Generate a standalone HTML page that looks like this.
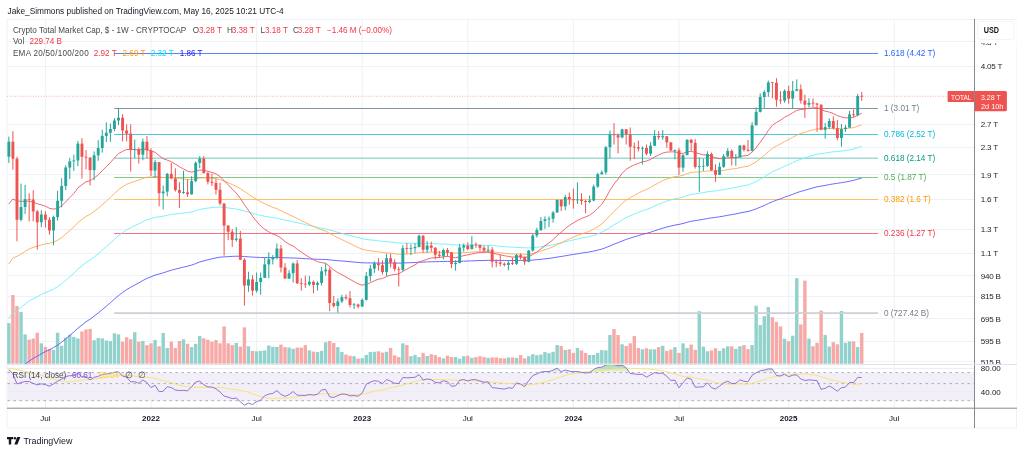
<!DOCTYPE html>
<html><head><meta charset="utf-8"><style>
html,body{margin:0;padding:0;background:#fff;width:1024px;height:453px;overflow:hidden}
svg{display:block}
text{font-family:"Liberation Sans", sans-serif}
</style></head><body>
<svg width="1024" height="453" viewBox="0 0 1024 453">
<defs>
<clipPath id="mainclip"><rect x="7" y="19.5" width="967" height="344.5"/></clipPath>
<clipPath id="rsiclip"><rect x="7" y="364.6" width="967" height="43"/></clipPath>
<linearGradient id="obg" x1="0" y1="364" x2="0" y2="372.7" gradientUnits="userSpaceOnUse"><stop offset="0" stop-color="#4caf50" stop-opacity="0.55"/><stop offset="1" stop-color="#4caf50" stop-opacity="0.08"/></linearGradient>
</defs>
<text x="7.5" y="13.7" font-size="8.3" fill="#131722">Jake_Simmons published on TradingView.com, May 16, 2025 10:21 UTC-4</text>
<rect x="7" y="19.5" width="1009.5" height="408.5" fill="none" stroke="#eff1f4" stroke-width="1"/>
<line x1="45.5" y1="19.5" x2="45.5" y2="408" stroke="#edf2f6" stroke-width="1"/>
<line x1="151.0" y1="19.5" x2="151.0" y2="408" stroke="#edf2f6" stroke-width="1"/>
<line x1="256.6" y1="19.5" x2="256.6" y2="408" stroke="#edf2f6" stroke-width="1"/>
<line x1="362.2" y1="19.5" x2="362.2" y2="408" stroke="#edf2f6" stroke-width="1"/>
<line x1="467.8" y1="19.5" x2="467.8" y2="408" stroke="#edf2f6" stroke-width="1"/>
<line x1="573.4" y1="19.5" x2="573.4" y2="408" stroke="#edf2f6" stroke-width="1"/>
<line x1="679.0" y1="19.5" x2="679.0" y2="408" stroke="#edf2f6" stroke-width="1"/>
<line x1="788.7" y1="19.5" x2="788.7" y2="408" stroke="#edf2f6" stroke-width="1"/>
<line x1="894.3" y1="19.5" x2="894.3" y2="408" stroke="#edf2f6" stroke-width="1"/>
<line x1="7" y1="41.5" x2="974" y2="41.5" stroke="#edf2f6" stroke-width="1"/>
<line x1="7" y1="66.5" x2="974" y2="66.5" stroke="#edf2f6" stroke-width="1"/>
<line x1="7" y1="124.5" x2="974" y2="124.5" stroke="#edf2f6" stroke-width="1"/>
<line x1="7" y1="147.5" x2="974" y2="147.5" stroke="#edf2f6" stroke-width="1"/>
<line x1="7" y1="174.5" x2="974" y2="174.5" stroke="#edf2f6" stroke-width="1"/>
<line x1="7" y1="199.5" x2="974" y2="199.5" stroke="#edf2f6" stroke-width="1"/>
<line x1="7" y1="229.5" x2="974" y2="229.5" stroke="#edf2f6" stroke-width="1"/>
<line x1="7" y1="253.5" x2="974" y2="253.5" stroke="#edf2f6" stroke-width="1"/>
<line x1="7" y1="275.5" x2="974" y2="275.5" stroke="#edf2f6" stroke-width="1"/>
<line x1="7" y1="296.5" x2="974" y2="296.5" stroke="#edf2f6" stroke-width="1"/>
<line x1="7" y1="318.5" x2="974" y2="318.5" stroke="#edf2f6" stroke-width="1"/>
<line x1="7" y1="341.5" x2="974" y2="341.5" stroke="#edf2f6" stroke-width="1"/>
<line x1="7" y1="361.5" x2="974" y2="361.5" stroke="#edf2f6" stroke-width="1"/>
<rect x="7.5" y="372.6" width="966.5" height="28.1" fill="#f2eff9"/>
<line x1="7" y1="368.4" x2="974" y2="368.4" stroke="#e9ecf4" stroke-width="1"/>
<line x1="7" y1="391.6" x2="974" y2="391.6" stroke="#e9ecf4" stroke-width="1"/>
<line x1="7.5" y1="372.6" x2="974" y2="372.6" stroke="#a3a6af" stroke-width="0.9" stroke-dasharray="2.5 3.5"/>
<line x1="7.5" y1="383.6" x2="974" y2="383.6" stroke="#a3a6af" stroke-width="0.9" stroke-dasharray="2.5 3.5"/>
<line x1="7.5" y1="400.7" x2="974" y2="400.7" stroke="#a3a6af" stroke-width="0.9" stroke-dasharray="2.5 3.5"/>
<rect x="7.15" y="323.1" width="3.4" height="40.6" fill="#92d2cc"/>
<rect x="11.21" y="295.0" width="3.4" height="68.7" fill="#f7a9a7"/>
<rect x="15.27" y="306.1" width="3.4" height="57.6" fill="#f7a9a7"/>
<rect x="19.33" y="311.9" width="3.4" height="51.8" fill="#92d2cc"/>
<rect x="23.40" y="334.4" width="3.4" height="29.3" fill="#92d2cc"/>
<rect x="27.46" y="339.7" width="3.4" height="24.0" fill="#f7a9a7"/>
<rect x="31.52" y="338.5" width="3.4" height="25.2" fill="#f7a9a7"/>
<rect x="35.58" y="332.7" width="3.4" height="31.0" fill="#f7a9a7"/>
<rect x="39.64" y="343.3" width="3.4" height="20.4" fill="#92d2cc"/>
<rect x="43.70" y="346.8" width="3.4" height="16.9" fill="#f7a9a7"/>
<rect x="47.76" y="348.8" width="3.4" height="14.9" fill="#f7a9a7"/>
<rect x="51.83" y="349.9" width="3.4" height="13.8" fill="#92d2cc"/>
<rect x="55.89" y="332.7" width="3.4" height="31.0" fill="#92d2cc"/>
<rect x="59.95" y="345.8" width="3.4" height="17.9" fill="#92d2cc"/>
<rect x="64.01" y="337.7" width="3.4" height="26.0" fill="#92d2cc"/>
<rect x="68.07" y="334.7" width="3.4" height="29.0" fill="#92d2cc"/>
<rect x="72.13" y="336.9" width="3.4" height="26.8" fill="#92d2cc"/>
<rect x="76.19" y="338.5" width="3.4" height="25.2" fill="#92d2cc"/>
<rect x="80.26" y="331.4" width="3.4" height="32.3" fill="#f7a9a7"/>
<rect x="84.32" y="329.4" width="3.4" height="34.3" fill="#f7a9a7"/>
<rect x="88.38" y="328.9" width="3.4" height="34.8" fill="#f7a9a7"/>
<rect x="92.44" y="340.2" width="3.4" height="23.5" fill="#92d2cc"/>
<rect x="96.50" y="338.0" width="3.4" height="25.7" fill="#92d2cc"/>
<rect x="100.56" y="338.3" width="3.4" height="25.4" fill="#92d2cc"/>
<rect x="104.62" y="340.5" width="3.4" height="23.2" fill="#92d2cc"/>
<rect x="108.68" y="341.0" width="3.4" height="22.7" fill="#92d2cc"/>
<rect x="112.75" y="333.4" width="3.4" height="30.3" fill="#92d2cc"/>
<rect x="116.81" y="334.4" width="3.4" height="29.3" fill="#92d2cc"/>
<rect x="120.87" y="341.7" width="3.4" height="22.0" fill="#f7a9a7"/>
<rect x="124.93" y="337.2" width="3.4" height="26.5" fill="#f7a9a7"/>
<rect x="128.99" y="339.2" width="3.4" height="24.5" fill="#f7a9a7"/>
<rect x="133.05" y="332.2" width="3.4" height="31.5" fill="#92d2cc"/>
<rect x="137.11" y="341.7" width="3.4" height="22.0" fill="#f7a9a7"/>
<rect x="141.18" y="341.0" width="3.4" height="22.7" fill="#92d2cc"/>
<rect x="145.24" y="345.1" width="3.4" height="18.6" fill="#f7a9a7"/>
<rect x="149.30" y="343.3" width="3.4" height="20.4" fill="#f7a9a7"/>
<rect x="153.36" y="340.0" width="3.4" height="23.7" fill="#92d2cc"/>
<rect x="157.42" y="346.3" width="3.4" height="17.4" fill="#f7a9a7"/>
<rect x="161.48" y="333.0" width="3.4" height="30.7" fill="#92d2cc"/>
<rect x="165.54" y="348.0" width="3.4" height="15.7" fill="#92d2cc"/>
<rect x="169.61" y="341.7" width="3.4" height="22.0" fill="#f7a9a7"/>
<rect x="173.67" y="348.0" width="3.4" height="15.7" fill="#f7a9a7"/>
<rect x="177.73" y="341.0" width="3.4" height="22.7" fill="#f7a9a7"/>
<rect x="181.79" y="339.3" width="3.4" height="24.4" fill="#92d2cc"/>
<rect x="185.85" y="343.8" width="3.4" height="19.9" fill="#f7a9a7"/>
<rect x="189.91" y="347.1" width="3.4" height="16.6" fill="#92d2cc"/>
<rect x="193.97" y="343.8" width="3.4" height="19.9" fill="#92d2cc"/>
<rect x="198.04" y="336.0" width="3.4" height="27.7" fill="#92d2cc"/>
<rect x="202.10" y="338.3" width="3.4" height="25.4" fill="#f7a9a7"/>
<rect x="206.16" y="339.7" width="3.4" height="24.0" fill="#f7a9a7"/>
<rect x="210.22" y="341.7" width="3.4" height="22.0" fill="#f7a9a7"/>
<rect x="214.28" y="340.0" width="3.4" height="23.7" fill="#f7a9a7"/>
<rect x="218.34" y="343.3" width="3.4" height="20.4" fill="#f7a9a7"/>
<rect x="222.40" y="326.4" width="3.4" height="37.3" fill="#f7a9a7"/>
<rect x="226.47" y="343.3" width="3.4" height="20.4" fill="#f7a9a7"/>
<rect x="230.53" y="345.1" width="3.4" height="18.6" fill="#f7a9a7"/>
<rect x="234.59" y="343.0" width="3.4" height="20.7" fill="#92d2cc"/>
<rect x="238.65" y="346.6" width="3.4" height="17.1" fill="#f7a9a7"/>
<rect x="242.71" y="327.4" width="3.4" height="36.3" fill="#f7a9a7"/>
<rect x="246.77" y="346.3" width="3.4" height="17.4" fill="#92d2cc"/>
<rect x="250.83" y="350.9" width="3.4" height="12.8" fill="#f7a9a7"/>
<rect x="254.90" y="351.3" width="3.4" height="12.4" fill="#92d2cc"/>
<rect x="258.96" y="350.9" width="3.4" height="12.8" fill="#92d2cc"/>
<rect x="263.02" y="350.4" width="3.4" height="13.3" fill="#92d2cc"/>
<rect x="267.08" y="345.5" width="3.4" height="18.2" fill="#92d2cc"/>
<rect x="271.14" y="346.8" width="3.4" height="16.9" fill="#92d2cc"/>
<rect x="275.20" y="346.8" width="3.4" height="16.9" fill="#92d2cc"/>
<rect x="279.26" y="344.6" width="3.4" height="19.1" fill="#f7a9a7"/>
<rect x="283.33" y="347.1" width="3.4" height="16.6" fill="#f7a9a7"/>
<rect x="287.39" y="347.5" width="3.4" height="16.2" fill="#92d2cc"/>
<rect x="291.45" y="348.8" width="3.4" height="14.9" fill="#92d2cc"/>
<rect x="295.51" y="347.6" width="3.4" height="16.1" fill="#f7a9a7"/>
<rect x="299.57" y="347.6" width="3.4" height="16.1" fill="#f7a9a7"/>
<rect x="303.63" y="345.1" width="3.4" height="18.6" fill="#f7a9a7"/>
<rect x="307.69" y="350.4" width="3.4" height="13.3" fill="#92d2cc"/>
<rect x="311.76" y="351.6" width="3.4" height="12.1" fill="#f7a9a7"/>
<rect x="315.82" y="352.1" width="3.4" height="11.6" fill="#92d2cc"/>
<rect x="319.88" y="350.9" width="3.4" height="12.8" fill="#92d2cc"/>
<rect x="323.94" y="342.2" width="3.4" height="21.5" fill="#92d2cc"/>
<rect x="328.00" y="341.0" width="3.4" height="22.7" fill="#f7a9a7"/>
<rect x="332.06" y="343.0" width="3.4" height="20.7" fill="#f7a9a7"/>
<rect x="336.12" y="347.1" width="3.4" height="16.6" fill="#92d2cc"/>
<rect x="340.18" y="352.1" width="3.4" height="11.6" fill="#92d2cc"/>
<rect x="344.25" y="354.6" width="3.4" height="9.1" fill="#f7a9a7"/>
<rect x="348.31" y="355.7" width="3.4" height="8.0" fill="#f7a9a7"/>
<rect x="352.37" y="356.2" width="3.4" height="7.5" fill="#92d2cc"/>
<rect x="356.43" y="358.7" width="3.4" height="5.0" fill="#f7a9a7"/>
<rect x="360.49" y="358.2" width="3.4" height="5.5" fill="#92d2cc"/>
<rect x="364.55" y="354.9" width="3.4" height="8.8" fill="#92d2cc"/>
<rect x="368.61" y="352.1" width="3.4" height="11.6" fill="#92d2cc"/>
<rect x="372.68" y="351.8" width="3.4" height="11.9" fill="#92d2cc"/>
<rect x="376.74" y="351.3" width="3.4" height="12.4" fill="#f7a9a7"/>
<rect x="380.80" y="352.6" width="3.4" height="11.1" fill="#f7a9a7"/>
<rect x="384.86" y="351.8" width="3.4" height="11.9" fill="#92d2cc"/>
<rect x="388.92" y="348.0" width="3.4" height="15.7" fill="#f7a9a7"/>
<rect x="392.98" y="355.4" width="3.4" height="8.3" fill="#f7a9a7"/>
<rect x="397.04" y="357.1" width="3.4" height="6.6" fill="#f7a9a7"/>
<rect x="401.11" y="343.3" width="3.4" height="20.4" fill="#92d2cc"/>
<rect x="405.17" y="345.0" width="3.4" height="18.7" fill="#f7a9a7"/>
<rect x="409.23" y="356.2" width="3.4" height="7.5" fill="#92d2cc"/>
<rect x="413.29" y="354.9" width="3.4" height="8.8" fill="#92d2cc"/>
<rect x="417.35" y="357.1" width="3.4" height="6.6" fill="#92d2cc"/>
<rect x="421.41" y="352.9" width="3.4" height="10.8" fill="#f7a9a7"/>
<rect x="425.47" y="355.9" width="3.4" height="7.8" fill="#92d2cc"/>
<rect x="429.54" y="354.2" width="3.4" height="9.5" fill="#f7a9a7"/>
<rect x="433.60" y="355.1" width="3.4" height="8.6" fill="#f7a9a7"/>
<rect x="437.66" y="357.1" width="3.4" height="6.6" fill="#f7a9a7"/>
<rect x="441.72" y="358.4" width="3.4" height="5.3" fill="#92d2cc"/>
<rect x="445.78" y="355.7" width="3.4" height="8.0" fill="#f7a9a7"/>
<rect x="449.84" y="357.1" width="3.4" height="6.6" fill="#f7a9a7"/>
<rect x="453.90" y="357.1" width="3.4" height="6.6" fill="#92d2cc"/>
<rect x="457.97" y="358.7" width="3.4" height="5.0" fill="#92d2cc"/>
<rect x="462.03" y="356.2" width="3.4" height="7.5" fill="#92d2cc"/>
<rect x="466.09" y="355.7" width="3.4" height="8.0" fill="#f7a9a7"/>
<rect x="470.15" y="357.9" width="3.4" height="5.8" fill="#92d2cc"/>
<rect x="474.21" y="357.1" width="3.4" height="6.6" fill="#f7a9a7"/>
<rect x="478.27" y="356.2" width="3.4" height="7.5" fill="#f7a9a7"/>
<rect x="482.33" y="357.1" width="3.4" height="6.6" fill="#f7a9a7"/>
<rect x="486.40" y="357.9" width="3.4" height="5.8" fill="#92d2cc"/>
<rect x="490.46" y="357.4" width="3.4" height="6.3" fill="#f7a9a7"/>
<rect x="494.52" y="357.4" width="3.4" height="6.3" fill="#f7a9a7"/>
<rect x="498.58" y="358.2" width="3.4" height="5.5" fill="#f7a9a7"/>
<rect x="502.64" y="358.4" width="3.4" height="5.3" fill="#f7a9a7"/>
<rect x="506.70" y="357.5" width="3.4" height="6.2" fill="#92d2cc"/>
<rect x="510.76" y="357.4" width="3.4" height="6.3" fill="#f7a9a7"/>
<rect x="514.82" y="357.9" width="3.4" height="5.8" fill="#92d2cc"/>
<rect x="518.89" y="355.1" width="3.4" height="8.6" fill="#f7a9a7"/>
<rect x="522.95" y="358.4" width="3.4" height="5.3" fill="#f7a9a7"/>
<rect x="527.01" y="356.2" width="3.4" height="7.5" fill="#92d2cc"/>
<rect x="531.07" y="354.2" width="3.4" height="9.5" fill="#92d2cc"/>
<rect x="535.13" y="355.1" width="3.4" height="8.6" fill="#92d2cc"/>
<rect x="539.19" y="354.6" width="3.4" height="9.1" fill="#92d2cc"/>
<rect x="543.25" y="352.1" width="3.4" height="11.6" fill="#92d2cc"/>
<rect x="547.32" y="353.2" width="3.4" height="10.5" fill="#92d2cc"/>
<rect x="551.38" y="351.8" width="3.4" height="11.9" fill="#92d2cc"/>
<rect x="555.44" y="345.0" width="3.4" height="18.7" fill="#92d2cc"/>
<rect x="559.50" y="346.0" width="3.4" height="17.7" fill="#f7a9a7"/>
<rect x="563.56" y="349.9" width="3.4" height="13.8" fill="#92d2cc"/>
<rect x="567.62" y="349.3" width="3.4" height="14.4" fill="#f7a9a7"/>
<rect x="571.68" y="352.9" width="3.4" height="10.8" fill="#f7a9a7"/>
<rect x="575.75" y="348.0" width="3.4" height="15.7" fill="#92d2cc"/>
<rect x="579.81" y="350.4" width="3.4" height="13.3" fill="#f7a9a7"/>
<rect x="583.87" y="352.9" width="3.4" height="10.8" fill="#f7a9a7"/>
<rect x="587.93" y="354.9" width="3.4" height="8.8" fill="#92d2cc"/>
<rect x="591.99" y="354.9" width="3.4" height="8.8" fill="#92d2cc"/>
<rect x="596.05" y="352.9" width="3.4" height="10.8" fill="#92d2cc"/>
<rect x="600.11" y="350.1" width="3.4" height="13.6" fill="#92d2cc"/>
<rect x="604.18" y="350.4" width="3.4" height="13.3" fill="#92d2cc"/>
<rect x="608.24" y="335.0" width="3.4" height="28.7" fill="#92d2cc"/>
<rect x="612.30" y="329.1" width="3.4" height="34.6" fill="#f7a9a7"/>
<rect x="616.36" y="335.0" width="3.4" height="28.7" fill="#f7a9a7"/>
<rect x="620.42" y="344.3" width="3.4" height="19.4" fill="#92d2cc"/>
<rect x="624.48" y="346.0" width="3.4" height="17.7" fill="#f7a9a7"/>
<rect x="628.54" y="343.3" width="3.4" height="20.4" fill="#f7a9a7"/>
<rect x="632.61" y="336.0" width="3.4" height="27.7" fill="#f7a9a7"/>
<rect x="636.67" y="348.0" width="3.4" height="15.7" fill="#f7a9a7"/>
<rect x="640.73" y="349.3" width="3.4" height="14.4" fill="#92d2cc"/>
<rect x="644.79" y="348.3" width="3.4" height="15.4" fill="#f7a9a7"/>
<rect x="648.85" y="349.3" width="3.4" height="14.4" fill="#92d2cc"/>
<rect x="652.91" y="349.3" width="3.4" height="14.4" fill="#92d2cc"/>
<rect x="656.97" y="347.1" width="3.4" height="16.6" fill="#f7a9a7"/>
<rect x="661.04" y="345.8" width="3.4" height="17.9" fill="#92d2cc"/>
<rect x="665.10" y="350.9" width="3.4" height="12.8" fill="#f7a9a7"/>
<rect x="669.16" y="349.6" width="3.4" height="14.1" fill="#f7a9a7"/>
<rect x="673.22" y="347.1" width="3.4" height="16.6" fill="#92d2cc"/>
<rect x="677.28" y="352.9" width="3.4" height="10.8" fill="#f7a9a7"/>
<rect x="681.34" y="343.3" width="3.4" height="20.4" fill="#92d2cc"/>
<rect x="685.40" y="348.0" width="3.4" height="15.7" fill="#92d2cc"/>
<rect x="689.47" y="344.6" width="3.4" height="19.1" fill="#f7a9a7"/>
<rect x="693.53" y="349.9" width="3.4" height="13.8" fill="#f7a9a7"/>
<rect x="697.59" y="311.2" width="3.4" height="52.5" fill="#92d2cc"/>
<rect x="701.65" y="346.6" width="3.4" height="17.1" fill="#92d2cc"/>
<rect x="705.71" y="351.3" width="3.4" height="12.4" fill="#92d2cc"/>
<rect x="709.77" y="350.4" width="3.4" height="13.3" fill="#f7a9a7"/>
<rect x="713.83" y="348.3" width="3.4" height="15.4" fill="#f7a9a7"/>
<rect x="717.89" y="350.9" width="3.4" height="12.8" fill="#92d2cc"/>
<rect x="721.96" y="348.3" width="3.4" height="15.4" fill="#92d2cc"/>
<rect x="726.02" y="346.3" width="3.4" height="17.4" fill="#92d2cc"/>
<rect x="730.08" y="346.3" width="3.4" height="17.4" fill="#f7a9a7"/>
<rect x="734.14" y="348.8" width="3.4" height="14.9" fill="#92d2cc"/>
<rect x="738.20" y="346.3" width="3.4" height="17.4" fill="#92d2cc"/>
<rect x="742.26" y="345.1" width="3.4" height="18.6" fill="#f7a9a7"/>
<rect x="746.32" y="349.1" width="3.4" height="14.6" fill="#f7a9a7"/>
<rect x="750.39" y="345.1" width="3.4" height="18.6" fill="#92d2cc"/>
<rect x="754.45" y="305.7" width="3.4" height="58.0" fill="#92d2cc"/>
<rect x="758.51" y="325.1" width="3.4" height="38.6" fill="#92d2cc"/>
<rect x="762.57" y="316.2" width="3.4" height="47.5" fill="#92d2cc"/>
<rect x="766.63" y="307.1" width="3.4" height="56.6" fill="#92d2cc"/>
<rect x="770.69" y="317.2" width="3.4" height="46.5" fill="#f7a9a7"/>
<rect x="774.75" y="321.9" width="3.4" height="41.8" fill="#f7a9a7"/>
<rect x="778.82" y="326.4" width="3.4" height="37.3" fill="#f7a9a7"/>
<rect x="782.88" y="338.7" width="3.4" height="25.0" fill="#92d2cc"/>
<rect x="786.94" y="341.2" width="3.4" height="22.5" fill="#f7a9a7"/>
<rect x="791.00" y="335.7" width="3.4" height="28.0" fill="#92d2cc"/>
<rect x="795.06" y="278.2" width="3.4" height="85.5" fill="#92d2cc"/>
<rect x="799.12" y="324.4" width="3.4" height="39.3" fill="#f7a9a7"/>
<rect x="803.18" y="280.6" width="3.4" height="83.1" fill="#f7a9a7"/>
<rect x="807.25" y="338.7" width="3.4" height="25.0" fill="#92d2cc"/>
<rect x="811.31" y="346.3" width="3.4" height="17.4" fill="#f7a9a7"/>
<rect x="815.37" y="342.8" width="3.4" height="20.9" fill="#f7a9a7"/>
<rect x="819.43" y="310.6" width="3.4" height="53.1" fill="#f7a9a7"/>
<rect x="823.49" y="335.0" width="3.4" height="28.7" fill="#92d2cc"/>
<rect x="827.55" y="346.5" width="3.4" height="17.2" fill="#92d2cc"/>
<rect x="831.61" y="342.2" width="3.4" height="21.5" fill="#f7a9a7"/>
<rect x="835.68" y="344.3" width="3.4" height="19.4" fill="#f7a9a7"/>
<rect x="839.74" y="311.0" width="3.4" height="52.7" fill="#92d2cc"/>
<rect x="843.80" y="342.8" width="3.4" height="20.9" fill="#92d2cc"/>
<rect x="847.86" y="341.4" width="3.4" height="22.3" fill="#92d2cc"/>
<rect x="851.92" y="341.4" width="3.4" height="22.3" fill="#f7a9a7"/>
<rect x="855.98" y="347.0" width="3.4" height="16.7" fill="#92d2cc"/>
<rect x="860.04" y="333.0" width="3.4" height="30.7" fill="#f7a9a7"/>
<line x1="114.2" y1="53.5" x2="878" y2="53.5" stroke="#5b82fb" stroke-width="1"/>
<line x1="114.2" y1="108.5" x2="878" y2="108.5" stroke="#8f929b" stroke-width="1"/>
<line x1="114.2" y1="134.5" x2="878" y2="134.5" stroke="#4cc9de" stroke-width="1.1"/>
<line x1="114.2" y1="158.2" x2="878" y2="158.2" stroke="#a0d9d2" stroke-width="1.5"/>
<line x1="114.2" y1="177.5" x2="878" y2="177.5" stroke="#86cc89" stroke-width="1"/>
<line x1="114.2" y1="199.5" x2="878" y2="199.5" stroke="#ffbf6a" stroke-width="1"/>
<line x1="114.2" y1="233.5" x2="878" y2="233.5" stroke="#f5737c" stroke-width="1"/>
<line x1="114.2" y1="313.1" x2="878" y2="313.1" stroke="#cdcfd4" stroke-width="1.7"/>
<line x1="7" y1="96.3" x2="974" y2="96.3" stroke="#ef5350" stroke-width="0.8" stroke-dasharray="1 1.6" opacity="0.55"/>
<polyline points="8.8,378.0 12.9,372.9 17.0,370.2 21.0,367.2 25.1,364.1 29.2,361.1 33.2,358.5 37.3,356.2 41.3,353.8 45.4,351.6 49.5,349.8 53.5,347.6 57.6,345.1 61.6,342.2 65.7,338.9 69.8,335.4 73.8,332.0 77.9,328.2 82.0,325.0 86.0,321.8 90.1,319.2 94.1,316.2 98.2,313.0 102.3,309.6 106.3,306.2 110.4,302.7 114.4,299.1 118.5,295.5 122.6,292.5 126.6,289.6 130.7,287.3 134.8,285.0 138.8,282.9 142.9,280.5 146.9,278.4 151.0,276.8 155.1,275.1 159.1,274.0 163.2,272.9 167.2,271.5 171.3,270.2 175.4,269.1 179.4,268.1 183.5,267.1 187.6,266.2 191.6,265.1 195.7,263.6 199.7,262.0 203.8,260.8 207.9,259.8 211.9,258.8 216.0,257.9 220.0,257.2 224.1,256.9 228.2,256.6 232.2,256.4 236.3,256.2 240.3,256.3 244.4,256.5 248.5,256.8 252.5,257.1 256.6,257.3 260.7,257.5 264.7,257.5 268.8,257.6 272.8,257.6 276.9,257.5 281.0,257.6 285.0,257.8 289.1,257.9 293.1,258.0 297.2,258.2 301.3,258.4 305.3,258.7 309.4,258.9 313.5,259.1 317.5,259.3 321.6,259.4 325.6,259.5 329.7,259.9 333.8,260.3 337.8,260.7 341.9,261.0 345.9,261.3 350.0,261.7 354.1,262.1 358.1,262.4 362.2,262.8 366.3,262.9 370.3,262.9 374.4,263.0 378.4,263.0 382.5,263.1 386.6,263.0 390.6,263.0 394.7,263.1 398.7,263.1 402.8,263.0 406.9,262.8 410.9,262.7 415.0,262.5 419.1,262.2 423.1,262.1 427.2,261.9 431.2,261.8 435.3,261.7 439.4,261.6 443.4,261.5 447.5,261.4 451.5,261.4 455.6,261.5 459.7,261.3 463.7,261.2 467.8,261.0 471.8,260.9 475.9,260.7 480.0,260.6 484.0,260.5 488.1,260.3 492.2,260.4 496.2,260.4 500.3,260.4 504.3,260.5 508.4,260.5 512.5,260.5 516.5,260.5 520.6,260.4 524.6,260.4 528.7,260.3 532.8,260.1 536.8,259.7 540.9,259.3 545.0,258.8 549.0,258.4 553.1,257.8 557.1,257.1 561.2,256.5 565.3,255.8 569.3,255.1 573.4,254.4 577.4,253.8 581.5,253.1 585.6,252.5 589.6,251.9 593.7,251.1 597.8,250.1 601.8,249.1 605.9,247.6 609.9,245.9 614.0,244.2 618.1,242.7 622.1,241.0 626.2,239.4 630.2,238.1 634.3,236.8 638.4,235.6 642.4,234.4 646.5,233.4 650.6,232.2 654.6,230.8 658.7,229.5 662.7,228.2 666.8,227.0 670.9,226.0 674.9,225.1 679.0,224.4 683.0,223.5 687.1,222.3 691.2,221.3 695.2,220.6 699.3,220.0 703.3,219.3 707.4,218.5 711.5,217.9 715.5,217.4 719.6,216.8 723.7,216.1 727.7,215.3 731.8,214.6 735.8,213.9 739.9,213.0 744.0,212.2 748.0,211.5 752.1,210.3 756.1,208.9 760.2,207.2 764.3,205.5 768.3,203.5 772.4,201.7 776.5,200.2 780.5,198.8 784.6,197.2 788.6,195.8 792.7,194.3 796.8,192.7 800.8,191.4 804.9,190.3 808.9,189.1 813.0,187.9 817.1,186.8 821.1,186.1 825.2,185.4 829.3,184.6 833.3,183.9 837.4,183.3 841.4,182.7 845.5,182.0 849.6,181.2 853.6,180.3 857.7,179.2 861.7,178.1" fill="none" stroke="#5a5aff" stroke-width="0.9" stroke-linejoin="round" clip-path="url(#mainclip)"/>
<polyline points="8.8,318.5 12.9,312.8 17.0,310.2 21.0,307.3 25.1,304.1 29.2,301.1 33.2,298.7 37.3,296.7 41.3,294.5 45.4,292.6 49.5,291.0 53.5,289.1 57.6,286.7 61.6,283.9 65.7,280.4 69.8,276.7 73.8,273.2 77.9,269.1 82.0,265.8 86.0,262.6 90.1,260.1 94.1,257.0 98.2,253.8 102.3,250.3 106.3,246.7 110.4,243.1 114.4,239.4 118.5,235.6 122.6,232.6 126.6,229.8 130.7,227.7 134.8,225.6 138.8,223.8 142.9,221.6 146.9,219.8 151.0,218.7 155.1,217.3 159.1,216.8 163.2,216.2 167.2,215.3 171.3,214.4 175.4,213.9 179.4,213.5 183.5,213.0 187.6,212.6 191.6,211.9 195.7,210.8 199.7,209.5 203.8,208.7 207.9,208.1 211.9,207.6 216.0,207.2 220.0,207.1 224.1,207.5 228.2,207.9 232.2,208.5 236.3,209.0 240.3,209.9 244.4,211.0 248.5,212.1 252.5,213.3 256.6,214.4 260.7,215.4 264.7,216.3 268.8,217.0 272.8,217.7 276.9,218.2 281.0,219.1 285.0,220.0 289.1,220.9 293.1,221.7 297.2,222.7 301.3,223.6 305.3,224.6 309.4,225.6 313.5,226.5 317.5,227.5 321.6,228.2 325.6,228.9 329.7,230.1 333.8,231.2 337.8,232.3 341.9,233.4 345.9,234.4 350.0,235.5 354.1,236.6 358.1,237.7 362.2,238.7 366.3,239.4 370.3,239.9 374.4,240.3 378.4,240.8 382.5,241.3 386.6,241.7 390.6,242.0 394.7,242.5 398.7,243.0 402.8,243.1 406.9,243.2 410.9,243.3 415.0,243.4 419.1,243.2 423.1,243.4 427.2,243.4 431.2,243.5 435.3,243.7 439.4,243.9 443.4,244.1 447.5,244.2 451.5,244.6 455.6,244.9 459.7,245.0 463.7,245.0 467.8,245.1 471.8,245.1 475.9,245.1 480.0,245.1 484.0,245.2 488.1,245.3 492.2,245.6 496.2,245.9 500.3,246.3 504.3,246.6 508.4,246.9 512.5,247.2 516.5,247.4 520.6,247.6 524.6,247.8 528.7,247.9 532.8,247.6 536.8,247.3 540.9,246.7 545.0,246.1 549.0,245.5 553.1,244.8 557.1,243.7 561.2,242.9 565.3,241.8 569.3,240.8 573.4,239.9 577.4,239.0 581.5,238.1 585.6,237.3 589.6,236.5 593.7,235.3 597.8,233.8 601.8,232.3 605.9,230.0 609.9,227.4 614.0,224.8 618.1,222.5 622.1,219.9 626.2,217.6 630.2,215.8 634.3,214.1 638.4,212.4 642.4,210.8 646.5,209.4 650.6,207.9 654.6,206.0 658.7,204.3 662.7,202.6 666.8,201.1 670.9,199.9 674.9,198.7 679.0,198.1 683.0,197.1 687.1,195.7 691.2,194.4 695.2,193.8 699.3,193.2 703.3,192.6 707.4,191.8 711.5,191.3 715.5,190.9 719.6,190.4 723.7,189.7 727.7,188.8 731.8,188.1 735.8,187.4 739.9,186.5 744.0,185.6 748.0,184.9 752.1,183.4 756.1,181.6 760.2,179.3 764.3,177.0 768.3,174.3 772.4,171.8 776.5,170.0 780.5,168.2 784.6,166.2 788.6,164.5 792.7,162.6 796.8,160.7 800.8,159.3 804.9,158.0 808.9,156.6 813.0,155.4 817.1,154.2 821.1,153.6 825.2,153.1 829.3,152.4 833.3,151.8 837.4,151.6 841.4,151.1 845.5,150.6 849.6,149.8 853.6,149.0 857.7,147.7 861.7,146.5" fill="none" stroke="#6af2fb" stroke-width="0.9" stroke-linejoin="round" clip-path="url(#mainclip)"/>
<polyline points="8.8,264.0 12.9,258.0 17.0,256.3 21.0,254.0 25.1,251.4 29.2,249.0 33.2,247.3 37.3,246.3 41.3,244.9 45.4,243.8 49.5,243.3 53.5,242.1 57.6,240.3 61.6,237.7 65.7,234.2 69.8,230.5 73.8,227.0 77.9,222.7 82.0,219.4 86.0,216.4 90.1,214.3 94.1,211.4 98.2,208.4 102.3,204.7 106.3,201.1 110.4,197.5 114.4,193.5 118.5,189.7 122.6,186.8 126.6,184.3 130.7,182.8 134.8,181.3 138.8,180.2 142.9,178.4 146.9,177.2 151.0,177.0 155.1,176.4 159.1,177.0 163.2,177.5 167.2,177.4 171.3,177.4 175.4,177.9 179.4,178.5 183.5,179.0 187.6,179.6 191.6,179.6 195.7,178.9 199.7,178.1 203.8,177.9 207.9,178.0 211.9,178.2 216.0,178.7 220.0,179.6 224.1,181.1 228.2,182.8 232.2,184.6 236.3,186.4 240.3,188.7 244.4,191.5 248.5,194.1 252.5,196.9 256.6,199.4 260.7,201.8 264.7,203.8 268.8,205.6 272.8,207.3 276.9,208.7 281.0,210.6 285.0,212.8 289.1,214.7 293.1,216.4 297.2,218.5 301.3,220.6 305.3,222.6 309.4,224.5 313.5,226.4 317.5,228.3 321.6,229.8 325.6,231.1 329.7,233.4 333.8,235.6 337.8,237.7 341.9,239.6 345.9,241.5 350.0,243.6 354.1,245.5 358.1,247.5 362.2,249.2 366.3,250.2 370.3,250.8 374.4,251.3 378.4,251.8 382.5,252.6 386.6,252.8 390.6,253.2 394.7,253.7 398.7,254.3 402.8,254.1 406.9,253.9 410.9,253.7 415.0,253.4 419.1,252.7 423.1,252.6 427.2,252.3 431.2,252.1 435.3,252.2 439.4,252.3 443.4,252.3 447.5,252.3 451.5,252.7 455.6,253.1 459.7,252.9 463.7,252.6 467.8,252.4 471.8,252.1 475.9,251.8 480.0,251.7 484.0,251.6 488.1,251.6 492.2,251.9 496.2,252.3 500.3,252.8 504.3,253.2 508.4,253.6 512.5,254.0 516.5,254.0 520.6,254.1 524.6,254.4 528.7,254.3 532.8,253.5 536.8,252.5 540.9,251.1 545.0,249.7 549.0,248.4 553.1,246.8 557.1,244.6 561.2,242.9 565.3,240.8 569.3,238.9 573.4,237.2 577.4,235.5 581.5,234.0 585.6,232.6 589.6,231.2 593.7,229.2 597.8,226.6 601.8,224.0 605.9,220.1 609.9,215.5 614.0,211.4 618.1,207.6 622.1,203.6 626.2,200.2 630.2,197.7 634.3,195.3 638.4,193.2 642.4,191.1 646.5,189.4 650.6,187.4 654.6,185.0 658.7,182.8 662.7,180.7 666.8,179.0 670.9,177.7 674.9,176.6 679.0,176.2 683.0,175.3 687.1,173.7 691.2,172.4 695.2,172.2 699.3,171.9 703.3,171.7 707.4,171.0 711.5,170.9 715.5,171.1 719.6,170.9 723.7,170.3 727.7,169.5 731.8,169.0 735.8,168.6 739.9,167.6 744.0,166.8 748.0,166.2 752.1,164.3 756.1,161.9 760.2,158.7 764.3,155.4 768.3,151.7 772.4,148.3 776.5,146.1 780.5,144.0 784.6,141.5 788.6,139.5 792.7,137.3 796.8,135.1 800.8,133.5 804.9,132.3 808.9,131.0 813.0,129.8 817.1,128.8 821.1,128.8 825.2,128.7 829.3,128.4 833.3,128.4 837.4,128.8 841.4,128.8 845.5,128.7 849.6,128.2 853.6,127.6 857.7,126.2 861.7,124.9" fill="none" stroke="#ffaa55" stroke-width="0.9" stroke-linejoin="round" clip-path="url(#mainclip)"/>
<polyline points="8.8,204.0 12.9,199.0 17.0,200.9 21.0,201.4 25.1,201.2 29.2,201.1 33.2,202.0 37.3,203.8 41.3,204.8 45.4,206.2 49.5,208.3 53.5,209.1 57.6,208.3 61.6,206.0 65.7,201.9 69.8,197.5 73.8,193.5 77.9,187.9 82.0,184.7 86.0,181.8 90.1,180.7 94.1,178.1 98.2,174.9 102.3,170.7 106.3,166.6 110.4,162.6 114.4,158.0 118.5,153.6 122.6,151.3 126.6,149.5 130.7,149.5 134.8,149.5 138.8,150.0 142.9,149.2 146.9,149.3 151.0,151.2 155.1,152.2 159.1,155.6 163.2,158.7 167.2,160.1 171.3,161.7 175.4,164.2 179.4,166.7 183.5,169.0 187.6,171.2 191.6,172.1 195.7,171.2 199.7,170.0 203.8,170.3 207.9,171.3 211.9,172.4 216.0,173.9 220.0,176.5 224.1,180.5 228.2,184.7 232.2,189.1 236.3,193.2 240.3,198.3 244.4,204.7 248.5,210.3 252.5,216.3 256.6,221.4 260.7,226.0 264.7,229.2 268.8,231.8 272.8,234.1 276.9,235.4 281.0,238.1 285.0,241.5 289.1,244.3 293.1,246.0 297.2,249.2 301.3,252.1 305.3,254.9 309.4,257.3 313.5,259.7 317.5,261.7 321.6,262.6 325.6,263.3 329.7,266.6 333.8,269.9 337.8,272.7 341.9,274.8 345.9,276.9 350.0,279.4 354.1,281.6 358.1,283.8 362.2,285.2 366.3,284.3 370.3,282.7 374.4,280.8 378.4,279.2 382.5,278.5 386.6,276.5 390.6,275.1 394.7,274.5 398.7,274.0 402.8,271.4 406.9,269.1 410.9,266.9 415.0,264.9 419.1,261.9 423.1,260.7 427.2,259.2 431.2,258.0 435.3,257.7 439.4,257.5 443.4,256.8 447.5,256.4 451.5,257.1 455.6,257.7 459.7,256.7 463.7,255.6 467.8,254.9 471.8,253.9 475.9,253.1 480.0,252.5 484.0,252.3 488.1,252.1 492.2,253.0 496.2,253.9 500.3,254.8 504.3,255.7 508.4,256.4 512.5,257.1 516.5,256.9 520.6,256.9 524.6,257.4 528.7,256.7 532.8,254.5 536.8,252.0 540.9,248.8 545.0,245.7 549.0,242.9 553.1,239.7 557.1,235.4 561.2,232.4 565.3,228.6 569.3,225.5 573.4,222.9 577.4,220.5 581.5,218.5 585.6,216.9 589.6,215.2 593.7,212.2 597.8,208.2 601.8,204.3 605.9,197.8 609.9,190.4 614.0,184.1 618.1,179.0 622.1,173.4 626.2,169.2 630.2,166.9 634.3,164.9 638.4,163.3 642.4,161.8 646.5,161.0 650.6,159.4 654.6,157.0 658.7,155.0 662.7,153.1 666.8,152.1 670.9,151.9 674.9,151.8 679.0,153.2 683.0,153.4 687.1,152.0 691.2,151.2 695.2,152.6 699.3,153.8 703.3,154.9 707.4,154.8 711.5,156.2 715.5,157.9 719.6,158.7 723.7,158.5 727.7,157.8 731.8,157.8 735.8,157.7 739.9,156.5 744.0,155.9 748.0,155.4 752.1,152.2 756.1,147.9 760.2,142.2 764.3,136.6 768.3,130.5 772.4,125.2 776.5,122.5 780.5,120.3 784.6,117.2 788.6,115.3 792.7,112.8 796.8,110.4 800.8,109.5 804.9,109.0 808.9,108.4 813.0,107.9 817.1,107.6 821.1,109.6 825.2,111.2 829.3,112.1 833.3,113.5 837.4,115.7 841.4,116.9 845.5,117.9 849.6,117.6 853.6,117.3 857.7,115.2 861.7,113.3" fill="none" stroke="#f25563" stroke-width="0.9" stroke-linejoin="round" clip-path="url(#mainclip)"/>
<line x1="8.85" y1="136.6" x2="8.85" y2="162.9" stroke="#26a69a" stroke-width="1"/>
<rect x="7.40" y="141.7" width="2.9" height="15.0" fill="#26a69a"/>
<line x1="12.91" y1="131.2" x2="12.91" y2="169.8" stroke="#ef5350" stroke-width="1"/>
<rect x="11.46" y="141.7" width="2.9" height="17.0" fill="#ef5350"/>
<line x1="16.97" y1="156.7" x2="16.97" y2="241.3" stroke="#ef5350" stroke-width="1"/>
<rect x="15.52" y="158.7" width="2.9" height="61.1" fill="#ef5350"/>
<line x1="21.03" y1="183.7" x2="21.03" y2="221.4" stroke="#26a69a" stroke-width="1"/>
<rect x="19.58" y="207.0" width="2.9" height="12.8" fill="#26a69a"/>
<line x1="25.10" y1="185.0" x2="25.10" y2="214.0" stroke="#26a69a" stroke-width="1"/>
<rect x="23.65" y="199.1" width="2.9" height="7.9" fill="#26a69a"/>
<line x1="29.16" y1="193.3" x2="29.16" y2="221.4" stroke="#ef5350" stroke-width="1"/>
<rect x="27.71" y="198.9" width="2.9" height="0.8" fill="#ef5350"/>
<line x1="33.22" y1="190.2" x2="33.22" y2="221.4" stroke="#ef5350" stroke-width="1"/>
<rect x="31.77" y="199.5" width="2.9" height="12.0" fill="#ef5350"/>
<line x1="37.28" y1="209.9" x2="37.28" y2="249.6" stroke="#ef5350" stroke-width="1"/>
<rect x="35.83" y="211.5" width="2.9" height="10.8" fill="#ef5350"/>
<line x1="41.34" y1="210.2" x2="41.34" y2="227.2" stroke="#26a69a" stroke-width="1"/>
<rect x="39.89" y="214.5" width="2.9" height="7.8" fill="#26a69a"/>
<line x1="45.40" y1="211.2" x2="45.40" y2="227.7" stroke="#ef5350" stroke-width="1"/>
<rect x="43.95" y="214.5" width="2.9" height="5.3" fill="#ef5350"/>
<line x1="49.46" y1="217.3" x2="49.46" y2="234.7" stroke="#ef5350" stroke-width="1"/>
<rect x="48.01" y="219.8" width="2.9" height="10.7" fill="#ef5350"/>
<line x1="53.53" y1="215.6" x2="53.53" y2="245.4" stroke="#26a69a" stroke-width="1"/>
<rect x="52.08" y="217.0" width="2.9" height="13.5" fill="#26a69a"/>
<line x1="57.59" y1="190.8" x2="57.59" y2="220.6" stroke="#26a69a" stroke-width="1"/>
<rect x="56.14" y="200.8" width="2.9" height="16.2" fill="#26a69a"/>
<line x1="61.65" y1="178.3" x2="61.65" y2="207.4" stroke="#26a69a" stroke-width="1"/>
<rect x="60.20" y="186.0" width="2.9" height="14.8" fill="#26a69a"/>
<line x1="65.71" y1="165.2" x2="65.71" y2="190.0" stroke="#26a69a" stroke-width="1"/>
<rect x="64.26" y="167.5" width="2.9" height="18.5" fill="#26a69a"/>
<line x1="69.77" y1="157.8" x2="69.77" y2="179.0" stroke="#26a69a" stroke-width="1"/>
<rect x="68.32" y="161.3" width="2.9" height="6.2" fill="#26a69a"/>
<line x1="73.83" y1="154.8" x2="73.83" y2="170.9" stroke="#26a69a" stroke-width="1"/>
<rect x="72.38" y="160.5" width="2.9" height="0.8" fill="#26a69a"/>
<line x1="77.89" y1="140.9" x2="77.89" y2="166.2" stroke="#26a69a" stroke-width="1"/>
<rect x="76.44" y="143.6" width="2.9" height="16.9" fill="#26a69a"/>
<line x1="81.96" y1="138.2" x2="81.96" y2="178.6" stroke="#ef5350" stroke-width="1"/>
<rect x="80.51" y="143.6" width="2.9" height="13.2" fill="#ef5350"/>
<line x1="86.02" y1="150.1" x2="86.02" y2="169.3" stroke="#ef5350" stroke-width="1"/>
<rect x="84.57" y="156.8" width="2.9" height="0.8" fill="#ef5350"/>
<line x1="90.08" y1="157.5" x2="90.08" y2="185.5" stroke="#ef5350" stroke-width="1"/>
<rect x="88.63" y="157.5" width="2.9" height="12.6" fill="#ef5350"/>
<line x1="94.14" y1="151.4" x2="94.14" y2="180.1" stroke="#26a69a" stroke-width="1"/>
<rect x="92.69" y="155.3" width="2.9" height="14.8" fill="#26a69a"/>
<line x1="98.20" y1="140.2" x2="98.20" y2="160.8" stroke="#26a69a" stroke-width="1"/>
<rect x="96.75" y="148.0" width="2.9" height="7.3" fill="#26a69a"/>
<line x1="102.26" y1="129.7" x2="102.26" y2="152.6" stroke="#26a69a" stroke-width="1"/>
<rect x="100.81" y="135.9" width="2.9" height="12.1" fill="#26a69a"/>
<line x1="106.32" y1="122.3" x2="106.32" y2="142.1" stroke="#26a69a" stroke-width="1"/>
<rect x="104.87" y="132.8" width="2.9" height="3.1" fill="#26a69a"/>
<line x1="110.38" y1="123.5" x2="110.38" y2="141.8" stroke="#26a69a" stroke-width="1"/>
<rect x="108.93" y="129.0" width="2.9" height="3.8" fill="#26a69a"/>
<line x1="114.45" y1="118.1" x2="114.45" y2="131.3" stroke="#26a69a" stroke-width="1"/>
<rect x="113.00" y="120.5" width="2.9" height="8.5" fill="#26a69a"/>
<line x1="118.51" y1="108.1" x2="118.51" y2="125.1" stroke="#26a69a" stroke-width="1"/>
<rect x="117.06" y="117.7" width="2.9" height="2.8" fill="#26a69a"/>
<line x1="122.57" y1="114.3" x2="122.57" y2="141.3" stroke="#ef5350" stroke-width="1"/>
<rect x="121.12" y="117.7" width="2.9" height="12.8" fill="#ef5350"/>
<line x1="126.63" y1="124.3" x2="126.63" y2="141.3" stroke="#ef5350" stroke-width="1"/>
<rect x="125.18" y="130.5" width="2.9" height="3.1" fill="#ef5350"/>
<line x1="130.69" y1="124.3" x2="130.69" y2="171.6" stroke="#ef5350" stroke-width="1"/>
<rect x="129.24" y="133.6" width="2.9" height="16.2" fill="#ef5350"/>
<line x1="134.75" y1="139.7" x2="134.75" y2="158.2" stroke="#26a69a" stroke-width="1"/>
<rect x="133.30" y="149.1" width="2.9" height="0.8" fill="#26a69a"/>
<line x1="138.81" y1="147.4" x2="138.81" y2="163.6" stroke="#ef5350" stroke-width="1"/>
<rect x="137.36" y="149.2" width="2.9" height="5.5" fill="#ef5350"/>
<line x1="142.88" y1="138.6" x2="142.88" y2="160.2" stroke="#26a69a" stroke-width="1"/>
<rect x="141.43" y="141.7" width="2.9" height="13.0" fill="#26a69a"/>
<line x1="146.94" y1="136.1" x2="146.94" y2="158.2" stroke="#ef5350" stroke-width="1"/>
<rect x="145.49" y="141.7" width="2.9" height="8.8" fill="#ef5350"/>
<line x1="151.00" y1="148.2" x2="151.00" y2="176.0" stroke="#ef5350" stroke-width="1"/>
<rect x="149.55" y="150.5" width="2.9" height="20.1" fill="#ef5350"/>
<line x1="155.06" y1="159.8" x2="155.06" y2="177.5" stroke="#26a69a" stroke-width="1"/>
<rect x="153.61" y="162.1" width="2.9" height="8.5" fill="#26a69a"/>
<line x1="159.12" y1="162.9" x2="159.12" y2="206.3" stroke="#ef5350" stroke-width="1"/>
<rect x="157.67" y="162.1" width="2.9" height="31.1" fill="#ef5350"/>
<line x1="163.18" y1="185.5" x2="163.18" y2="209.4" stroke="#26a69a" stroke-width="1"/>
<rect x="161.73" y="191.6" width="2.9" height="1.6" fill="#26a69a"/>
<line x1="167.24" y1="172.9" x2="167.24" y2="196.3" stroke="#26a69a" stroke-width="1"/>
<rect x="165.79" y="173.9" width="2.9" height="17.7" fill="#26a69a"/>
<line x1="171.31" y1="162.9" x2="171.31" y2="179.3" stroke="#ef5350" stroke-width="1"/>
<rect x="169.86" y="173.9" width="2.9" height="4.6" fill="#ef5350"/>
<line x1="175.37" y1="168.3" x2="175.37" y2="191.6" stroke="#ef5350" stroke-width="1"/>
<rect x="173.92" y="178.5" width="2.9" height="11.6" fill="#ef5350"/>
<line x1="179.43" y1="182.2" x2="179.43" y2="207.9" stroke="#ef5350" stroke-width="1"/>
<rect x="177.98" y="190.1" width="2.9" height="2.8" fill="#ef5350"/>
<line x1="183.49" y1="170.8" x2="183.49" y2="194.0" stroke="#26a69a" stroke-width="1"/>
<rect x="182.04" y="192.2" width="2.9" height="0.8" fill="#26a69a"/>
<line x1="187.55" y1="179.3" x2="187.55" y2="197.0" stroke="#ef5350" stroke-width="1"/>
<rect x="186.10" y="192.4" width="2.9" height="1.9" fill="#ef5350"/>
<line x1="191.61" y1="176.2" x2="191.61" y2="194.7" stroke="#26a69a" stroke-width="1"/>
<rect x="190.16" y="181.1" width="2.9" height="13.2" fill="#26a69a"/>
<line x1="195.67" y1="161.3" x2="195.67" y2="182.2" stroke="#26a69a" stroke-width="1"/>
<rect x="194.22" y="162.9" width="2.9" height="18.2" fill="#26a69a"/>
<line x1="199.74" y1="156.1" x2="199.74" y2="168.2" stroke="#26a69a" stroke-width="1"/>
<rect x="198.29" y="158.6" width="2.9" height="4.3" fill="#26a69a"/>
<line x1="203.80" y1="156.1" x2="203.80" y2="173.6" stroke="#ef5350" stroke-width="1"/>
<rect x="202.35" y="158.6" width="2.9" height="14.5" fill="#ef5350"/>
<line x1="207.86" y1="172.0" x2="207.86" y2="184.4" stroke="#ef5350" stroke-width="1"/>
<rect x="206.41" y="173.1" width="2.9" height="8.7" fill="#ef5350"/>
<line x1="211.92" y1="173.6" x2="211.92" y2="186.0" stroke="#ef5350" stroke-width="1"/>
<rect x="210.47" y="181.8" width="2.9" height="1.1" fill="#ef5350"/>
<line x1="215.98" y1="179.0" x2="215.98" y2="194.5" stroke="#ef5350" stroke-width="1"/>
<rect x="214.53" y="182.9" width="2.9" height="6.9" fill="#ef5350"/>
<line x1="220.04" y1="182.9" x2="220.04" y2="205.4" stroke="#ef5350" stroke-width="1"/>
<rect x="218.59" y="189.8" width="2.9" height="13.7" fill="#ef5350"/>
<line x1="224.10" y1="203.5" x2="224.10" y2="255.6" stroke="#ef5350" stroke-width="1"/>
<rect x="222.65" y="203.5" width="2.9" height="22.0" fill="#ef5350"/>
<line x1="228.17" y1="225.5" x2="228.17" y2="240.2" stroke="#ef5350" stroke-width="1"/>
<rect x="226.72" y="225.5" width="2.9" height="6.2" fill="#ef5350"/>
<line x1="232.23" y1="229.0" x2="232.23" y2="247.1" stroke="#ef5350" stroke-width="1"/>
<rect x="230.78" y="231.7" width="2.9" height="8.2" fill="#ef5350"/>
<line x1="236.29" y1="227.0" x2="236.29" y2="241.7" stroke="#26a69a" stroke-width="1"/>
<rect x="234.84" y="238.6" width="2.9" height="1.3" fill="#26a69a"/>
<line x1="240.35" y1="230.9" x2="240.35" y2="260.0" stroke="#ef5350" stroke-width="1"/>
<rect x="238.90" y="238.6" width="2.9" height="21.1" fill="#ef5350"/>
<line x1="244.41" y1="258.2" x2="244.41" y2="305.7" stroke="#ef5350" stroke-width="1"/>
<rect x="242.96" y="259.7" width="2.9" height="25.9" fill="#ef5350"/>
<line x1="248.47" y1="271.7" x2="248.47" y2="291.8" stroke="#26a69a" stroke-width="1"/>
<rect x="247.02" y="279.4" width="2.9" height="6.2" fill="#26a69a"/>
<line x1="252.53" y1="275.2" x2="252.53" y2="295.6" stroke="#ef5350" stroke-width="1"/>
<rect x="251.08" y="279.4" width="2.9" height="11.3" fill="#ef5350"/>
<line x1="256.60" y1="272.5" x2="256.60" y2="292.6" stroke="#26a69a" stroke-width="1"/>
<rect x="255.15" y="282.0" width="2.9" height="8.7" fill="#26a69a"/>
<line x1="260.66" y1="272.5" x2="260.66" y2="294.9" stroke="#26a69a" stroke-width="1"/>
<rect x="259.21" y="277.9" width="2.9" height="4.1" fill="#26a69a"/>
<line x1="264.72" y1="257.8" x2="264.72" y2="277.9" stroke="#26a69a" stroke-width="1"/>
<rect x="263.27" y="264.4" width="2.9" height="13.5" fill="#26a69a"/>
<line x1="268.78" y1="252.4" x2="268.78" y2="278.3" stroke="#26a69a" stroke-width="1"/>
<rect x="267.33" y="259.3" width="2.9" height="5.1" fill="#26a69a"/>
<line x1="272.84" y1="255.1" x2="272.84" y2="264.4" stroke="#26a69a" stroke-width="1"/>
<rect x="271.39" y="257.5" width="2.9" height="1.8" fill="#26a69a"/>
<line x1="276.90" y1="243.4" x2="276.90" y2="259.3" stroke="#26a69a" stroke-width="1"/>
<rect x="275.45" y="248.5" width="2.9" height="9.0" fill="#26a69a"/>
<line x1="280.96" y1="245.0" x2="280.96" y2="272.5" stroke="#ef5350" stroke-width="1"/>
<rect x="279.51" y="248.5" width="2.9" height="19.0" fill="#ef5350"/>
<line x1="285.03" y1="263.2" x2="285.03" y2="278.8" stroke="#ef5350" stroke-width="1"/>
<rect x="283.58" y="267.5" width="2.9" height="11.1" fill="#ef5350"/>
<line x1="289.09" y1="270.1" x2="289.09" y2="278.8" stroke="#26a69a" stroke-width="1"/>
<rect x="287.64" y="273.2" width="2.9" height="5.4" fill="#26a69a"/>
<line x1="293.15" y1="262.4" x2="293.15" y2="282.5" stroke="#26a69a" stroke-width="1"/>
<rect x="291.70" y="263.5" width="2.9" height="9.7" fill="#26a69a"/>
<line x1="297.21" y1="260.1" x2="297.21" y2="284.0" stroke="#ef5350" stroke-width="1"/>
<rect x="295.76" y="263.5" width="2.9" height="19.8" fill="#ef5350"/>
<line x1="301.27" y1="278.2" x2="301.27" y2="290.6" stroke="#ef5350" stroke-width="1"/>
<rect x="299.82" y="283.2" width="2.9" height="0.8" fill="#ef5350"/>
<line x1="305.33" y1="275.6" x2="305.33" y2="287.9" stroke="#ef5350" stroke-width="1"/>
<rect x="303.88" y="283.8" width="2.9" height="0.8" fill="#ef5350"/>
<line x1="309.39" y1="275.9" x2="309.39" y2="286.0" stroke="#26a69a" stroke-width="1"/>
<rect x="307.94" y="281.8" width="2.9" height="2.6" fill="#26a69a"/>
<line x1="313.46" y1="280.5" x2="313.46" y2="293.2" stroke="#ef5350" stroke-width="1"/>
<rect x="312.01" y="281.8" width="2.9" height="3.1" fill="#ef5350"/>
<line x1="317.52" y1="281.3" x2="317.52" y2="290.6" stroke="#26a69a" stroke-width="1"/>
<rect x="316.07" y="282.9" width="2.9" height="2.0" fill="#26a69a"/>
<line x1="321.58" y1="267.0" x2="321.58" y2="285.5" stroke="#26a69a" stroke-width="1"/>
<rect x="320.13" y="271.3" width="2.9" height="11.6" fill="#26a69a"/>
<line x1="325.64" y1="263.2" x2="325.64" y2="275.6" stroke="#26a69a" stroke-width="1"/>
<rect x="324.19" y="269.7" width="2.9" height="1.6" fill="#26a69a"/>
<line x1="329.70" y1="267.4" x2="329.70" y2="311.2" stroke="#ef5350" stroke-width="1"/>
<rect x="328.25" y="269.7" width="2.9" height="33.3" fill="#ef5350"/>
<line x1="333.76" y1="296.0" x2="333.76" y2="307.6" stroke="#ef5350" stroke-width="1"/>
<rect x="332.31" y="303.0" width="2.9" height="3.0" fill="#ef5350"/>
<line x1="337.82" y1="298.3" x2="337.82" y2="312.7" stroke="#26a69a" stroke-width="1"/>
<rect x="336.37" y="301.4" width="2.9" height="4.6" fill="#26a69a"/>
<line x1="341.88" y1="294.8" x2="341.88" y2="303.0" stroke="#26a69a" stroke-width="1"/>
<rect x="340.43" y="297.2" width="2.9" height="4.2" fill="#26a69a"/>
<line x1="345.95" y1="294.5" x2="345.95" y2="299.9" stroke="#ef5350" stroke-width="1"/>
<rect x="344.50" y="297.2" width="2.9" height="1.1" fill="#ef5350"/>
<line x1="350.01" y1="291.0" x2="350.01" y2="307.6" stroke="#ef5350" stroke-width="1"/>
<rect x="348.56" y="298.3" width="2.9" height="6.7" fill="#ef5350"/>
<line x1="354.07" y1="303.0" x2="354.07" y2="309.1" stroke="#26a69a" stroke-width="1"/>
<rect x="352.62" y="304.4" width="2.9" height="0.8" fill="#26a69a"/>
<line x1="358.13" y1="303.7" x2="358.13" y2="308.4" stroke="#ef5350" stroke-width="1"/>
<rect x="356.68" y="304.5" width="2.9" height="2.0" fill="#ef5350"/>
<line x1="362.19" y1="298.5" x2="362.19" y2="307.0" stroke="#26a69a" stroke-width="1"/>
<rect x="360.74" y="299.9" width="2.9" height="6.6" fill="#26a69a"/>
<line x1="366.25" y1="272.1" x2="366.25" y2="300.5" stroke="#26a69a" stroke-width="1"/>
<rect x="364.80" y="276.0" width="2.9" height="23.9" fill="#26a69a"/>
<line x1="370.31" y1="264.9" x2="370.31" y2="281.4" stroke="#26a69a" stroke-width="1"/>
<rect x="368.86" y="268.6" width="2.9" height="7.4" fill="#26a69a"/>
<line x1="374.38" y1="261.3" x2="374.38" y2="272.9" stroke="#26a69a" stroke-width="1"/>
<rect x="372.93" y="263.3" width="2.9" height="5.3" fill="#26a69a"/>
<line x1="378.44" y1="258.2" x2="378.44" y2="270.6" stroke="#ef5350" stroke-width="1"/>
<rect x="376.99" y="263.3" width="2.9" height="1.9" fill="#ef5350"/>
<line x1="382.50" y1="260.5" x2="382.50" y2="274.5" stroke="#ef5350" stroke-width="1"/>
<rect x="381.05" y="265.2" width="2.9" height="6.9" fill="#ef5350"/>
<line x1="386.56" y1="253.6" x2="386.56" y2="276.0" stroke="#26a69a" stroke-width="1"/>
<rect x="385.11" y="258.2" width="2.9" height="13.9" fill="#26a69a"/>
<line x1="390.62" y1="253.6" x2="390.62" y2="267.5" stroke="#ef5350" stroke-width="1"/>
<rect x="389.17" y="258.2" width="2.9" height="4.2" fill="#ef5350"/>
<line x1="394.68" y1="259.3" x2="394.68" y2="271.4" stroke="#ef5350" stroke-width="1"/>
<rect x="393.23" y="262.4" width="2.9" height="6.6" fill="#ef5350"/>
<line x1="398.74" y1="266.7" x2="398.74" y2="286.5" stroke="#ef5350" stroke-width="1"/>
<rect x="397.29" y="269.0" width="2.9" height="0.8" fill="#ef5350"/>
<line x1="402.81" y1="245.1" x2="402.81" y2="271.4" stroke="#26a69a" stroke-width="1"/>
<rect x="401.36" y="248.2" width="2.9" height="21.6" fill="#26a69a"/>
<line x1="406.87" y1="243.2" x2="406.87" y2="253.6" stroke="#ef5350" stroke-width="1"/>
<rect x="405.42" y="248.2" width="2.9" height="0.8" fill="#ef5350"/>
<line x1="410.93" y1="244.3" x2="410.93" y2="255.1" stroke="#26a69a" stroke-width="1"/>
<rect x="409.48" y="248.2" width="2.9" height="0.8" fill="#26a69a"/>
<line x1="414.99" y1="243.2" x2="414.99" y2="252.8" stroke="#26a69a" stroke-width="1"/>
<rect x="413.54" y="247.0" width="2.9" height="1.2" fill="#26a69a"/>
<line x1="419.05" y1="234.3" x2="419.05" y2="247.5" stroke="#26a69a" stroke-width="1"/>
<rect x="417.60" y="235.8" width="2.9" height="11.2" fill="#26a69a"/>
<line x1="423.11" y1="235.0" x2="423.11" y2="252.6" stroke="#ef5350" stroke-width="1"/>
<rect x="421.66" y="235.8" width="2.9" height="13.9" fill="#ef5350"/>
<line x1="427.17" y1="240.9" x2="427.17" y2="252.8" stroke="#26a69a" stroke-width="1"/>
<rect x="425.72" y="245.5" width="2.9" height="4.2" fill="#26a69a"/>
<line x1="431.24" y1="241.6" x2="431.24" y2="251.7" stroke="#ef5350" stroke-width="1"/>
<rect x="429.79" y="245.5" width="2.9" height="2.3" fill="#ef5350"/>
<line x1="435.30" y1="247.0" x2="435.30" y2="259.4" stroke="#ef5350" stroke-width="1"/>
<rect x="433.85" y="247.8" width="2.9" height="7.0" fill="#ef5350"/>
<line x1="439.36" y1="250.9" x2="439.36" y2="257.9" stroke="#ef5350" stroke-width="1"/>
<rect x="437.91" y="254.8" width="2.9" height="1.1" fill="#ef5350"/>
<line x1="443.42" y1="248.6" x2="443.42" y2="259.4" stroke="#26a69a" stroke-width="1"/>
<rect x="441.97" y="250.1" width="2.9" height="5.8" fill="#26a69a"/>
<line x1="447.48" y1="248.1" x2="447.48" y2="256.3" stroke="#ef5350" stroke-width="1"/>
<rect x="446.03" y="250.1" width="2.9" height="2.4" fill="#ef5350"/>
<line x1="451.54" y1="252.0" x2="451.54" y2="268.2" stroke="#ef5350" stroke-width="1"/>
<rect x="450.09" y="252.5" width="2.9" height="11.5" fill="#ef5350"/>
<line x1="455.60" y1="260.2" x2="455.60" y2="270.7" stroke="#26a69a" stroke-width="1"/>
<rect x="454.15" y="263.0" width="2.9" height="1.0" fill="#26a69a"/>
<line x1="459.67" y1="244.0" x2="459.67" y2="263.3" stroke="#26a69a" stroke-width="1"/>
<rect x="458.22" y="247.5" width="2.9" height="15.5" fill="#26a69a"/>
<line x1="463.73" y1="243.5" x2="463.73" y2="251.7" stroke="#26a69a" stroke-width="1"/>
<rect x="462.28" y="245.5" width="2.9" height="2.0" fill="#26a69a"/>
<line x1="467.79" y1="242.4" x2="467.79" y2="250.1" stroke="#ef5350" stroke-width="1"/>
<rect x="466.34" y="245.5" width="2.9" height="3.6" fill="#ef5350"/>
<line x1="471.85" y1="236.2" x2="471.85" y2="249.4" stroke="#26a69a" stroke-width="1"/>
<rect x="470.40" y="244.7" width="2.9" height="4.4" fill="#26a69a"/>
<line x1="475.91" y1="242.4" x2="475.91" y2="247.8" stroke="#ef5350" stroke-width="1"/>
<rect x="474.46" y="244.4" width="2.9" height="0.8" fill="#ef5350"/>
<line x1="479.97" y1="244.7" x2="479.97" y2="250.9" stroke="#ef5350" stroke-width="1"/>
<rect x="478.52" y="245.0" width="2.9" height="2.8" fill="#ef5350"/>
<line x1="484.03" y1="245.5" x2="484.03" y2="252.5" stroke="#ef5350" stroke-width="1"/>
<rect x="482.58" y="247.8" width="2.9" height="2.7" fill="#ef5350"/>
<line x1="488.10" y1="245.5" x2="488.10" y2="252.5" stroke="#26a69a" stroke-width="1"/>
<rect x="486.65" y="249.6" width="2.9" height="0.9" fill="#26a69a"/>
<line x1="492.16" y1="247.1" x2="492.16" y2="267.5" stroke="#ef5350" stroke-width="1"/>
<rect x="490.71" y="249.6" width="2.9" height="12.2" fill="#ef5350"/>
<line x1="496.22" y1="259.5" x2="496.22" y2="267.2" stroke="#ef5350" stroke-width="1"/>
<rect x="494.77" y="261.8" width="2.9" height="0.8" fill="#ef5350"/>
<line x1="500.28" y1="254.8" x2="500.28" y2="266.4" stroke="#ef5350" stroke-width="1"/>
<rect x="498.83" y="262.5" width="2.9" height="1.3" fill="#ef5350"/>
<line x1="504.34" y1="262.5" x2="504.34" y2="266.4" stroke="#ef5350" stroke-width="1"/>
<rect x="502.89" y="263.8" width="2.9" height="1.1" fill="#ef5350"/>
<line x1="508.40" y1="261.0" x2="508.40" y2="270.3" stroke="#26a69a" stroke-width="1"/>
<rect x="506.95" y="262.9" width="2.9" height="2.0" fill="#26a69a"/>
<line x1="512.46" y1="257.9" x2="512.46" y2="264.9" stroke="#ef5350" stroke-width="1"/>
<rect x="511.01" y="262.9" width="2.9" height="0.9" fill="#ef5350"/>
<line x1="516.52" y1="254.0" x2="516.52" y2="264.9" stroke="#26a69a" stroke-width="1"/>
<rect x="515.07" y="255.1" width="2.9" height="8.7" fill="#26a69a"/>
<line x1="520.59" y1="253.3" x2="520.59" y2="259.5" stroke="#ef5350" stroke-width="1"/>
<rect x="519.14" y="255.1" width="2.9" height="2.0" fill="#ef5350"/>
<line x1="524.65" y1="256.4" x2="524.65" y2="264.9" stroke="#ef5350" stroke-width="1"/>
<rect x="523.20" y="257.1" width="2.9" height="4.7" fill="#ef5350"/>
<line x1="528.71" y1="250.0" x2="528.71" y2="262.3" stroke="#26a69a" stroke-width="1"/>
<rect x="527.26" y="250.5" width="2.9" height="11.3" fill="#26a69a"/>
<line x1="532.77" y1="234.0" x2="532.77" y2="251.7" stroke="#26a69a" stroke-width="1"/>
<rect x="531.32" y="235.5" width="2.9" height="15.0" fill="#26a69a"/>
<line x1="536.83" y1="227.8" x2="536.83" y2="237.5" stroke="#26a69a" stroke-width="1"/>
<rect x="535.38" y="230.1" width="2.9" height="5.4" fill="#26a69a"/>
<line x1="540.89" y1="217.0" x2="540.89" y2="230.9" stroke="#26a69a" stroke-width="1"/>
<rect x="539.44" y="221.0" width="2.9" height="9.1" fill="#26a69a"/>
<line x1="544.95" y1="216.4" x2="544.95" y2="228.8" stroke="#26a69a" stroke-width="1"/>
<rect x="543.50" y="219.3" width="2.9" height="1.7" fill="#26a69a"/>
<line x1="549.02" y1="216.4" x2="549.02" y2="227.2" stroke="#26a69a" stroke-width="1"/>
<rect x="547.57" y="218.6" width="2.9" height="0.8" fill="#26a69a"/>
<line x1="553.08" y1="211.0" x2="553.08" y2="222.6" stroke="#26a69a" stroke-width="1"/>
<rect x="551.63" y="212.5" width="2.9" height="6.2" fill="#26a69a"/>
<line x1="557.14" y1="199.5" x2="557.14" y2="212.5" stroke="#26a69a" stroke-width="1"/>
<rect x="555.69" y="199.9" width="2.9" height="12.6" fill="#26a69a"/>
<line x1="561.20" y1="199.4" x2="561.20" y2="211.0" stroke="#ef5350" stroke-width="1"/>
<rect x="559.75" y="199.9" width="2.9" height="6.5" fill="#ef5350"/>
<line x1="565.26" y1="194.8" x2="565.26" y2="210.2" stroke="#26a69a" stroke-width="1"/>
<rect x="563.81" y="197.0" width="2.9" height="9.4" fill="#26a69a"/>
<line x1="569.32" y1="192.5" x2="569.32" y2="204.8" stroke="#ef5350" stroke-width="1"/>
<rect x="567.87" y="197.0" width="2.9" height="2.2" fill="#ef5350"/>
<line x1="573.38" y1="188.6" x2="573.38" y2="208.7" stroke="#ef5350" stroke-width="1"/>
<rect x="571.93" y="199.2" width="2.9" height="1.0" fill="#ef5350"/>
<line x1="577.45" y1="182.4" x2="577.45" y2="204.0" stroke="#26a69a" stroke-width="1"/>
<rect x="576.00" y="199.5" width="2.9" height="0.8" fill="#26a69a"/>
<line x1="581.51" y1="193.2" x2="581.51" y2="204.8" stroke="#ef5350" stroke-width="1"/>
<rect x="580.06" y="199.6" width="2.9" height="1.4" fill="#ef5350"/>
<line x1="585.57" y1="199.9" x2="585.57" y2="213.3" stroke="#ef5350" stroke-width="1"/>
<rect x="584.12" y="201.0" width="2.9" height="1.0" fill="#ef5350"/>
<line x1="589.63" y1="195.5" x2="589.63" y2="203.3" stroke="#26a69a" stroke-width="1"/>
<rect x="588.18" y="200.5" width="2.9" height="1.5" fill="#26a69a"/>
<line x1="593.69" y1="184.7" x2="593.69" y2="201.4" stroke="#26a69a" stroke-width="1"/>
<rect x="592.24" y="186.6" width="2.9" height="13.9" fill="#26a69a"/>
<line x1="597.75" y1="172.7" x2="597.75" y2="187.8" stroke="#26a69a" stroke-width="1"/>
<rect x="596.30" y="174.2" width="2.9" height="12.4" fill="#26a69a"/>
<line x1="601.81" y1="170.4" x2="601.81" y2="174.6" stroke="#26a69a" stroke-width="1"/>
<rect x="600.36" y="172.3" width="2.9" height="1.9" fill="#26a69a"/>
<line x1="605.88" y1="146.0" x2="605.88" y2="174.6" stroke="#26a69a" stroke-width="1"/>
<rect x="604.43" y="147.2" width="2.9" height="25.1" fill="#26a69a"/>
<line x1="609.94" y1="130.5" x2="609.94" y2="158.4" stroke="#26a69a" stroke-width="1"/>
<rect x="608.49" y="134.4" width="2.9" height="12.8" fill="#26a69a"/>
<line x1="614.00" y1="123.1" x2="614.00" y2="144.5" stroke="#ef5350" stroke-width="1"/>
<rect x="612.55" y="134.4" width="2.9" height="0.8" fill="#ef5350"/>
<line x1="618.06" y1="133.6" x2="618.06" y2="153.4" stroke="#ef5350" stroke-width="1"/>
<rect x="616.61" y="135.2" width="2.9" height="2.3" fill="#ef5350"/>
<line x1="622.12" y1="128.7" x2="622.12" y2="138.3" stroke="#26a69a" stroke-width="1"/>
<rect x="620.67" y="129.3" width="2.9" height="8.2" fill="#26a69a"/>
<line x1="626.18" y1="129.0" x2="626.18" y2="144.5" stroke="#ef5350" stroke-width="1"/>
<rect x="624.73" y="129.3" width="2.9" height="5.1" fill="#ef5350"/>
<line x1="630.24" y1="127.5" x2="630.24" y2="160.7" stroke="#ef5350" stroke-width="1"/>
<rect x="628.79" y="134.4" width="2.9" height="12.4" fill="#ef5350"/>
<line x1="634.31" y1="142.6" x2="634.31" y2="159.1" stroke="#ef5350" stroke-width="1"/>
<rect x="632.86" y="146.7" width="2.9" height="0.8" fill="#ef5350"/>
<line x1="638.37" y1="140.6" x2="638.37" y2="151.4" stroke="#ef5350" stroke-width="1"/>
<rect x="636.92" y="147.3" width="2.9" height="1.3" fill="#ef5350"/>
<line x1="642.43" y1="146.3" x2="642.43" y2="164.5" stroke="#26a69a" stroke-width="1"/>
<rect x="640.98" y="147.8" width="2.9" height="0.8" fill="#26a69a"/>
<line x1="646.49" y1="144.5" x2="646.49" y2="155.3" stroke="#ef5350" stroke-width="1"/>
<rect x="645.04" y="147.9" width="2.9" height="5.8" fill="#ef5350"/>
<line x1="650.55" y1="142.1" x2="650.55" y2="156.0" stroke="#26a69a" stroke-width="1"/>
<rect x="649.10" y="145.7" width="2.9" height="8.0" fill="#26a69a"/>
<line x1="654.61" y1="130.2" x2="654.61" y2="146.0" stroke="#26a69a" stroke-width="1"/>
<rect x="653.16" y="136.0" width="2.9" height="9.7" fill="#26a69a"/>
<line x1="658.67" y1="131.1" x2="658.67" y2="139.8" stroke="#ef5350" stroke-width="1"/>
<rect x="657.22" y="136.0" width="2.9" height="1.3" fill="#ef5350"/>
<line x1="662.74" y1="130.0" x2="662.74" y2="139.8" stroke="#26a69a" stroke-width="1"/>
<rect x="661.29" y="136.2" width="2.9" height="1.1" fill="#26a69a"/>
<line x1="666.80" y1="136.0" x2="666.80" y2="147.8" stroke="#ef5350" stroke-width="1"/>
<rect x="665.35" y="136.2" width="2.9" height="6.2" fill="#ef5350"/>
<line x1="670.86" y1="142.2" x2="670.86" y2="150.9" stroke="#ef5350" stroke-width="1"/>
<rect x="669.41" y="142.4" width="2.9" height="8.2" fill="#ef5350"/>
<line x1="674.92" y1="149.4" x2="674.92" y2="159.4" stroke="#26a69a" stroke-width="1"/>
<rect x="673.47" y="150.0" width="2.9" height="0.8" fill="#26a69a"/>
<line x1="678.98" y1="147.8" x2="678.98" y2="174.9" stroke="#ef5350" stroke-width="1"/>
<rect x="677.53" y="150.3" width="2.9" height="17.3" fill="#ef5350"/>
<line x1="683.04" y1="154.3" x2="683.04" y2="171.8" stroke="#26a69a" stroke-width="1"/>
<rect x="681.59" y="155.2" width="2.9" height="12.4" fill="#26a69a"/>
<line x1="687.10" y1="139.3" x2="687.10" y2="154.8" stroke="#26a69a" stroke-width="1"/>
<rect x="685.65" y="139.8" width="2.9" height="15.4" fill="#26a69a"/>
<line x1="691.17" y1="138.9" x2="691.17" y2="150.9" stroke="#ef5350" stroke-width="1"/>
<rect x="689.72" y="139.8" width="2.9" height="3.1" fill="#ef5350"/>
<line x1="695.23" y1="139.1" x2="695.23" y2="168.6" stroke="#ef5350" stroke-width="1"/>
<rect x="693.78" y="142.9" width="2.9" height="24.0" fill="#ef5350"/>
<line x1="699.29" y1="157.5" x2="699.29" y2="191.8" stroke="#26a69a" stroke-width="1"/>
<rect x="697.84" y="166.2" width="2.9" height="0.8" fill="#26a69a"/>
<line x1="703.35" y1="158.6" x2="703.35" y2="171.0" stroke="#26a69a" stroke-width="1"/>
<rect x="701.90" y="165.7" width="2.9" height="0.8" fill="#26a69a"/>
<line x1="707.41" y1="151.3" x2="707.41" y2="167.0" stroke="#26a69a" stroke-width="1"/>
<rect x="705.96" y="154.0" width="2.9" height="11.9" fill="#26a69a"/>
<line x1="711.47" y1="152.5" x2="711.47" y2="171.0" stroke="#ef5350" stroke-width="1"/>
<rect x="710.02" y="154.0" width="2.9" height="16.2" fill="#ef5350"/>
<line x1="715.53" y1="164.3" x2="715.53" y2="181.8" stroke="#ef5350" stroke-width="1"/>
<rect x="714.08" y="170.2" width="2.9" height="4.6" fill="#ef5350"/>
<line x1="719.60" y1="162.5" x2="719.60" y2="175.1" stroke="#26a69a" stroke-width="1"/>
<rect x="718.14" y="166.8" width="2.9" height="8.0" fill="#26a69a"/>
<line x1="723.66" y1="154.0" x2="723.66" y2="167.9" stroke="#26a69a" stroke-width="1"/>
<rect x="722.21" y="156.3" width="2.9" height="10.5" fill="#26a69a"/>
<line x1="727.72" y1="148.2" x2="727.72" y2="157.0" stroke="#26a69a" stroke-width="1"/>
<rect x="726.27" y="150.9" width="2.9" height="5.4" fill="#26a69a"/>
<line x1="731.78" y1="149.3" x2="731.78" y2="165.5" stroke="#ef5350" stroke-width="1"/>
<rect x="730.33" y="150.9" width="2.9" height="6.9" fill="#ef5350"/>
<line x1="735.84" y1="154.0" x2="735.84" y2="165.9" stroke="#26a69a" stroke-width="1"/>
<rect x="734.39" y="157.2" width="2.9" height="0.8" fill="#26a69a"/>
<line x1="739.90" y1="145.1" x2="739.90" y2="157.8" stroke="#26a69a" stroke-width="1"/>
<rect x="738.45" y="145.5" width="2.9" height="12.0" fill="#26a69a"/>
<line x1="743.96" y1="144.7" x2="743.96" y2="151.6" stroke="#ef5350" stroke-width="1"/>
<rect x="742.51" y="145.5" width="2.9" height="4.3" fill="#ef5350"/>
<line x1="748.02" y1="140.0" x2="748.02" y2="151.6" stroke="#ef5350" stroke-width="1"/>
<rect x="746.57" y="149.8" width="2.9" height="1.1" fill="#ef5350"/>
<line x1="752.09" y1="122.2" x2="752.09" y2="151.3" stroke="#26a69a" stroke-width="1"/>
<rect x="750.64" y="125.3" width="2.9" height="25.6" fill="#26a69a"/>
<line x1="756.15" y1="107.5" x2="756.15" y2="125.3" stroke="#26a69a" stroke-width="1"/>
<rect x="754.70" y="111.9" width="2.9" height="13.4" fill="#26a69a"/>
<line x1="760.21" y1="93.3" x2="760.21" y2="112.5" stroke="#26a69a" stroke-width="1"/>
<rect x="758.76" y="97.0" width="2.9" height="14.9" fill="#26a69a"/>
<line x1="764.27" y1="90.2" x2="764.27" y2="107.9" stroke="#26a69a" stroke-width="1"/>
<rect x="762.82" y="92.1" width="2.9" height="4.9" fill="#26a69a"/>
<line x1="768.33" y1="80.5" x2="768.33" y2="96.7" stroke="#26a69a" stroke-width="1"/>
<rect x="766.88" y="82.5" width="2.9" height="9.6" fill="#26a69a"/>
<line x1="772.39" y1="82.0" x2="772.39" y2="98.3" stroke="#ef5350" stroke-width="1"/>
<rect x="770.94" y="82.2" width="2.9" height="0.8" fill="#ef5350"/>
<line x1="776.45" y1="78.2" x2="776.45" y2="106.8" stroke="#ef5350" stroke-width="1"/>
<rect x="775.00" y="82.8" width="2.9" height="17.0" fill="#ef5350"/>
<line x1="780.52" y1="91.3" x2="780.52" y2="103.7" stroke="#ef5350" stroke-width="1"/>
<rect x="779.07" y="99.8" width="2.9" height="0.8" fill="#ef5350"/>
<line x1="784.58" y1="89.3" x2="784.58" y2="102.9" stroke="#26a69a" stroke-width="1"/>
<rect x="783.13" y="90.9" width="2.9" height="9.7" fill="#26a69a"/>
<line x1="788.64" y1="85.6" x2="788.64" y2="103.7" stroke="#ef5350" stroke-width="1"/>
<rect x="787.19" y="90.9" width="2.9" height="7.7" fill="#ef5350"/>
<line x1="792.70" y1="81.0" x2="792.70" y2="108.8" stroke="#26a69a" stroke-width="1"/>
<rect x="791.25" y="90.9" width="2.9" height="7.7" fill="#26a69a"/>
<line x1="796.76" y1="79.4" x2="796.76" y2="91.3" stroke="#26a69a" stroke-width="1"/>
<rect x="795.31" y="89.3" width="2.9" height="1.6" fill="#26a69a"/>
<line x1="800.82" y1="84.4" x2="800.82" y2="103.7" stroke="#ef5350" stroke-width="1"/>
<rect x="799.37" y="89.3" width="2.9" height="11.3" fill="#ef5350"/>
<line x1="804.88" y1="94.7" x2="804.88" y2="117.9" stroke="#ef5350" stroke-width="1"/>
<rect x="803.43" y="100.6" width="2.9" height="4.1" fill="#ef5350"/>
<line x1="808.95" y1="98.2" x2="808.95" y2="107.5" stroke="#26a69a" stroke-width="1"/>
<rect x="807.50" y="102.9" width="2.9" height="1.8" fill="#26a69a"/>
<line x1="813.01" y1="98.5" x2="813.01" y2="107.0" stroke="#ef5350" stroke-width="1"/>
<rect x="811.56" y="102.8" width="2.9" height="0.8" fill="#ef5350"/>
<line x1="817.07" y1="102.9" x2="817.07" y2="131.8" stroke="#ef5350" stroke-width="1"/>
<rect x="815.62" y="103.5" width="2.9" height="1.2" fill="#ef5350"/>
<line x1="821.13" y1="104.4" x2="821.13" y2="130.2" stroke="#ef5350" stroke-width="1"/>
<rect x="819.68" y="104.7" width="2.9" height="25.1" fill="#ef5350"/>
<line x1="825.19" y1="123.0" x2="825.19" y2="138.7" stroke="#26a69a" stroke-width="1"/>
<rect x="823.74" y="127.1" width="2.9" height="2.7" fill="#26a69a"/>
<line x1="829.25" y1="118.3" x2="829.25" y2="129.1" stroke="#26a69a" stroke-width="1"/>
<rect x="827.80" y="121.0" width="2.9" height="6.1" fill="#26a69a"/>
<line x1="833.31" y1="116.3" x2="833.31" y2="129.5" stroke="#ef5350" stroke-width="1"/>
<rect x="831.86" y="121.0" width="2.9" height="7.2" fill="#ef5350"/>
<line x1="837.38" y1="119.9" x2="837.38" y2="140.3" stroke="#ef5350" stroke-width="1"/>
<rect x="835.93" y="128.2" width="2.9" height="9.8" fill="#ef5350"/>
<line x1="841.44" y1="124.0" x2="841.44" y2="146.8" stroke="#26a69a" stroke-width="1"/>
<rect x="839.99" y="129.1" width="2.9" height="8.9" fill="#26a69a"/>
<line x1="845.50" y1="125.1" x2="845.50" y2="131.8" stroke="#26a69a" stroke-width="1"/>
<rect x="844.05" y="127.6" width="2.9" height="1.5" fill="#26a69a"/>
<line x1="849.56" y1="110.9" x2="849.56" y2="127.6" stroke="#26a69a" stroke-width="1"/>
<rect x="848.11" y="114.3" width="2.9" height="13.3" fill="#26a69a"/>
<line x1="853.62" y1="109.4" x2="853.62" y2="117.1" stroke="#ef5350" stroke-width="1"/>
<rect x="852.17" y="114.3" width="2.9" height="0.9" fill="#ef5350"/>
<line x1="857.68" y1="93.9" x2="857.68" y2="116.3" stroke="#26a69a" stroke-width="1"/>
<rect x="856.23" y="96.0" width="2.9" height="19.2" fill="#26a69a"/>
<line x1="861.74" y1="92.1" x2="861.74" y2="100.9" stroke="#ef5350" stroke-width="1"/>
<rect x="860.29" y="95.8" width="2.9" height="0.8" fill="#ef5350"/>
<polygon points="7.1,372.7 8.8,369.5 11.9,372.7" fill="url(#obg)" clip-path="url(#rsiclip)"/>
<polygon points="539.4,372.7 540.9,372.0 545.0,371.6 549.0,371.5 553.1,370.2 557.1,368.1 561.2,371.6 565.3,370.0 569.3,371.1 573.4,371.6 577.4,371.5 581.5,372.4 583.7,372.7" fill="url(#obg)" clip-path="url(#rsiclip)"/>
<polygon points="588.4,372.7 589.6,372.6 593.7,369.4 597.8,367.5 601.8,367.2 605.9,364.9 609.9,364.1 614.0,364.5 618.1,365.8 622.1,365.1 626.2,367.8 629.6,372.7" fill="url(#obg)" clip-path="url(#rsiclip)"/>
<polygon points="756.4,372.7 760.2,370.7 764.3,370.0 768.3,368.9 772.4,369.0 774.8,372.7" fill="url(#obg)" clip-path="url(#rsiclip)"/>
<polyline points="8.8,368.3 12.9,368.7 17.0,369.6 21.0,370.5 25.1,371.3 29.2,372.2 33.2,373.2 37.3,374.3 41.3,375.4 45.4,376.6 49.5,377.9 53.5,379.1 57.6,380.2 61.6,381.1 65.7,381.8 69.8,381.9 73.8,381.3 77.9,380.6 82.0,380.2 86.0,379.9 90.1,379.6 94.1,379.1 98.2,378.6 102.3,377.9 106.3,377.1 110.4,376.4 114.4,375.8 118.5,375.2 122.6,375.2 126.6,375.3 130.7,375.7 134.8,376.3 138.8,376.7 142.9,376.9 146.9,377.1 151.0,377.7 155.1,378.3 159.1,379.4 163.2,380.6 167.2,381.6 171.3,382.7 175.4,384.2 179.4,385.2 183.5,386.2 187.6,386.9 191.6,387.3 195.7,387.2 199.7,387.3 203.8,387.4 207.9,387.4 211.9,387.5 216.0,387.3 220.0,387.4 224.1,388.0 228.2,388.6 232.2,389.1 236.3,389.6 240.3,390.3 244.4,391.1 248.5,392.2 252.5,393.8 256.6,395.4 260.7,396.7 264.7,397.4 268.8,398.0 272.8,398.4 276.9,398.3 281.0,398.2 285.0,398.1 289.1,397.8 293.1,397.3 297.2,396.9 301.3,396.2 305.3,395.7 309.4,395.1 313.5,394.7 317.5,394.3 321.6,393.9 325.6,393.5 329.7,393.7 333.8,394.2 337.8,394.3 341.9,394.1 345.9,394.1 350.0,394.4 354.1,394.5 358.1,394.5 362.2,394.4 366.3,393.5 370.3,392.4 374.4,391.3 378.4,390.6 382.5,390.1 386.6,388.9 390.6,387.7 394.7,386.9 398.7,386.2 402.8,385.0 406.9,383.8 410.9,382.6 415.0,381.4 419.1,380.2 423.1,379.9 427.2,379.7 431.2,379.6 435.3,379.7 439.4,379.6 443.4,379.7 447.5,379.8 451.5,379.9 455.6,380.1 459.7,380.3 463.7,380.4 467.8,380.7 471.8,380.8 475.9,381.2 480.0,381.3 484.0,381.6 488.1,381.7 492.2,382.1 496.2,382.4 500.3,382.9 504.3,383.4 508.4,383.5 512.5,383.7 516.5,383.9 520.6,384.2 524.6,384.7 528.7,384.8 532.8,384.4 536.8,383.8 540.9,382.9 545.0,382.0 549.0,380.8 553.1,379.4 557.1,378.0 561.2,376.8 565.3,375.6 569.3,374.5 573.4,373.8 577.4,373.0 581.5,372.2 585.6,371.7 589.6,371.5 593.7,371.2 597.8,370.8 601.8,370.5 605.9,370.0 609.9,369.5 614.0,369.2 618.1,368.8 622.1,368.5 626.2,368.2 630.2,368.4 634.3,368.5 638.4,368.6 642.4,368.7 646.5,369.0 650.6,369.4 654.6,369.7 658.7,370.1 662.7,370.8 666.8,371.7 670.9,372.8 674.9,373.9 679.0,375.4 683.0,376.5 687.1,376.8 691.2,377.2 695.2,378.0 699.3,378.9 703.3,379.5 707.4,380.1 711.5,381.2 715.5,382.4 719.6,383.4 723.7,383.9 727.7,384.0 731.8,384.2 735.8,383.9 739.9,383.7 744.0,384.0 748.0,384.2 752.1,383.3 756.1,382.1 760.2,380.9 764.3,379.9 768.3,378.5 772.4,377.1 776.5,376.4 780.5,376.0 784.6,375.5 788.6,375.0 792.7,374.5 796.8,374.2 800.8,374.1 804.9,374.0 808.9,374.3 813.0,374.8 817.1,375.5 821.1,376.8 825.2,378.1 829.3,379.4 833.3,380.2 837.4,381.3 841.4,382.3 845.5,383.0 849.6,383.6 853.6,384.3 857.7,384.1 861.7,383.9" fill="none" stroke="#f9e16a" stroke-width="0.9" stroke-linejoin="round" clip-path="url(#rsiclip)"/>
<polyline points="8.8,369.5 12.9,373.8 17.0,384.0 21.0,382.5 25.1,381.5 29.2,381.5 33.2,383.4 37.3,384.9 41.3,383.8 45.4,384.6 49.5,386.2 53.5,383.9 57.6,381.3 61.6,379.1 65.7,376.5 69.8,375.7 73.8,375.6 77.9,373.3 82.0,376.7 86.0,376.9 90.1,379.9 94.1,377.4 98.2,376.3 102.3,374.5 106.3,374.0 110.4,373.5 114.4,372.2 118.5,371.8 122.6,376.1 126.6,377.1 130.7,381.9 134.8,381.7 138.8,383.3 142.9,380.0 146.9,382.6 151.0,387.6 155.1,385.3 159.1,391.7 163.2,391.3 167.2,386.7 171.3,387.6 175.4,390.0 179.4,390.5 183.5,390.4 187.6,390.8 191.6,386.7 195.7,382.0 199.7,381.0 203.8,384.8 207.9,386.9 211.9,387.1 216.0,388.8 220.0,391.9 224.1,396.1 228.2,397.2 232.2,398.6 236.3,398.1 240.3,401.7 244.4,405.2 248.5,403.1 252.5,404.6 256.6,401.6 260.7,400.2 264.7,395.7 268.8,394.1 272.8,393.5 276.9,390.6 281.0,394.4 285.0,396.3 289.1,394.6 293.1,391.5 297.2,395.2 301.3,395.3 305.3,395.4 309.4,394.5 313.5,395.1 317.5,394.3 321.6,389.9 325.6,389.4 329.7,396.8 333.8,397.4 337.8,395.6 341.9,394.0 345.9,394.3 350.0,395.9 354.1,395.6 358.1,396.2 362.2,393.0 366.3,384.2 370.3,382.1 374.4,380.7 378.4,381.3 382.5,383.6 386.6,379.6 390.6,381.1 394.7,383.3 398.7,383.5 402.8,377.5 406.9,377.8 410.9,377.6 415.0,377.3 419.1,374.6 423.1,380.0 427.2,378.9 431.2,379.7 435.3,382.4 439.4,382.8 443.4,380.8 447.5,381.8 451.5,386.3 455.6,385.8 459.7,380.2 463.7,379.5 467.8,381.0 471.8,379.6 475.9,379.7 480.0,381.0 484.0,382.3 488.1,381.9 492.2,387.7 496.2,388.0 500.3,388.6 504.3,389.1 508.4,387.8 512.5,388.3 516.5,382.9 520.6,384.1 524.6,386.7 528.7,380.7 532.8,375.5 536.8,374.0 540.9,372.0 545.0,371.6 549.0,371.5 553.1,370.2 557.1,368.1 561.2,371.6 565.3,370.0 569.3,371.1 573.4,371.6 577.4,371.5 581.5,372.4 585.6,373.0 589.6,372.6 593.7,369.4 597.8,367.5 601.8,367.2 605.9,364.9 609.9,364.1 614.0,364.5 618.1,365.8 622.1,365.1 626.2,367.8 630.2,373.6 634.3,373.9 638.4,374.5 642.4,374.3 646.5,377.2 650.6,374.9 654.6,372.7 658.7,373.3 662.7,373.1 666.8,376.4 670.9,380.4 674.9,380.2 679.0,387.8 683.0,382.7 687.1,378.0 691.2,379.2 695.2,387.2 699.3,387.0 703.3,386.8 707.4,382.7 711.5,387.7 715.5,389.0 719.6,386.1 723.7,382.8 727.7,381.2 731.8,383.5 735.8,383.4 739.9,379.8 744.0,381.3 748.0,381.7 752.1,375.2 756.1,372.8 760.2,370.7 764.3,370.0 768.3,368.9 772.4,369.0 776.5,375.6 780.5,375.9 784.6,374.0 788.6,376.8 792.7,375.2 796.8,374.9 800.8,379.0 804.9,380.5 808.9,379.9 813.0,380.2 817.1,380.7 821.1,389.4 825.2,388.3 829.3,386.0 833.3,388.3 837.4,391.2 841.4,387.7 845.5,387.1 849.6,382.4 853.6,382.7 857.7,377.4 861.7,377.5" fill="none" stroke="#8a63d2" stroke-width="0.9" stroke-linejoin="round" clip-path="url(#rsiclip)"/>
<text x="884" y="56.4" font-size="8.2" fill="#2962ff">1.618 (4.42 T)</text>
<text x="884" y="111.4" font-size="8.2" fill="#787b86">1 (3.01 T)</text>
<text x="884" y="137.4" font-size="8.2" fill="#00bcd4">0.786 (2.52 T)</text>
<text x="884" y="161.1" font-size="8.2" fill="#089981">0.618 (2.14 T)</text>
<text x="884" y="180.4" font-size="8.2" fill="#4caf50">0.5 (1.87 T)</text>
<text x="884" y="202.4" font-size="8.2" fill="#ff9800">0.382 (1.6 T)</text>
<text x="884" y="236.4" font-size="8.2" fill="#f23645">0.236 (1.27 T)</text>
<text x="884" y="316.0" font-size="8.2" fill="#787b86">0 (727.42 B)</text>
<g font-size="8.15" fill="#131722">
<text y="32.7"><tspan x="12.9" fill="#4a4a4a">Crypto Total Market Cap, $ - 1W - CRYPTOCAP</tspan><tspan x="192.8" fill="#4a4a4a">O</tspan><tspan x="199" fill="#f23645">3.28 T</tspan><tspan x="227" fill="#4a4a4a">H</tspan><tspan x="231.8" fill="#f23645">3.38 T</tspan><tspan x="260.5" fill="#4a4a4a">L</tspan><tspan x="265" fill="#f23645">3.18 T</tspan><tspan x="293" fill="#4a4a4a">C</tspan><tspan x="297.8" fill="#f23645">3.28 T</tspan><tspan x="327" fill="#f23645">−1.46 M (−0.00%)</tspan></text>
<text y="44.4"><tspan x="12.9" fill="#4a4a4a">Vol</tspan><tspan x="29.5" fill="#f23645">229.74 B</tspan></text>
<text y="56.1"><tspan x="12.9" fill="#4a4a4a" textLength="75.8" lengthAdjust="spacing">EMA 20/50/100/200</tspan><tspan x="93.75" fill="#f23645">2.92 T</tspan><tspan x="122.6" fill="#ff9800">2.69 T</tspan><tspan x="150.8" fill="#00e5ff">2.32 T</tspan><tspan x="179.7" fill="#1a1aff">1.86 T</tspan></text>
<text y="378.4"><tspan x="12.6" fill="#4a4a4a">RSI (14, close)</tspan><tspan x="72" fill="#7e57c2">60.61</tspan><tspan x="98.7" fill="#fdd835">50.04</tspan><tspan x="125" fill="#4a4a4a" font-size="9">∅</tspan><tspan x="138.2" fill="#4a4a4a" font-size="9">∅</tspan></text>
</g>
<rect x="975" y="20" width="41.5" height="344" fill="#fff"/>
<text x="980.8" y="44.6" font-size="8.1" letter-spacing="-0.25" fill="#1e222d">4.8 T</text>
<text x="980.8" y="69.0" font-size="8.1" letter-spacing="-0.25" fill="#1e222d">4.05 T</text>
<text x="980.8" y="127.2" font-size="8.1" letter-spacing="-0.25" fill="#1e222d">2.7 T</text>
<text x="980.8" y="150.2" font-size="8.1" letter-spacing="-0.25" fill="#1e222d">2.3 T</text>
<text x="980.8" y="177.6" font-size="8.1" letter-spacing="-0.25" fill="#1e222d">1.9 T</text>
<text x="980.8" y="202.3" font-size="8.1" letter-spacing="-0.25" fill="#1e222d">1.6 T</text>
<text x="980.8" y="232.1" font-size="8.1" letter-spacing="-0.25" fill="#1e222d">1.3 T</text>
<text x="980.8" y="256.0" font-size="8.1" letter-spacing="-0.25" fill="#1e222d">1.1 T</text>
<text x="980.8" y="278.6" font-size="8.1" letter-spacing="-0.25" fill="#1e222d">940 B</text>
<text x="980.8" y="299.1" font-size="8.1" letter-spacing="-0.25" fill="#1e222d">815 B</text>
<text x="980.8" y="321.9" font-size="8.1" letter-spacing="-0.25" fill="#1e222d">695 B</text>
<text x="980.8" y="344.2" font-size="8.1" letter-spacing="-0.25" fill="#1e222d">595 B</text>
<text x="980.8" y="364.9" font-size="8.1" letter-spacing="-0.25" fill="#1e222d">515 B</text>
<rect x="975" y="365" width="41.5" height="43" fill="#fff"/>
<text x="980.8" y="371.3" font-size="8" fill="#131722">80.00</text>
<text x="980.8" y="394.5" font-size="8" fill="#131722">40.00</text>
<rect x="975.5" y="20" width="41" height="23.4" fill="#fff"/>
<rect x="977.5" y="21.3" width="36.5" height="18.2" rx="3" fill="#fff" stroke="#f0f1f4" stroke-width="0.8"/>
<text x="983.8" y="33.2" font-size="8.4" font-weight="bold" fill="#131722" textLength="15.3" lengthAdjust="spacingAndGlyphs">USD</text>
<rect x="974" y="91" width="32.9" height="20.2" rx="1.5" fill="#ef5350"/>
<text x="981" y="99.6" font-size="7.6" fill="#fff" textLength="19.7" lengthAdjust="spacingAndGlyphs">3.28 T</text>
<text x="981" y="108.8" font-size="7.6" fill="#fff" textLength="22.4" lengthAdjust="spacingAndGlyphs">2d 10h</text>
<rect x="947.6" y="91" width="27" height="11.1" rx="1.2" fill="#ef5350"/>
<text x="951.1" y="99.5" font-size="7.4" fill="#fff" textLength="20.2" lengthAdjust="spacingAndGlyphs">TOTAL</text>
<text x="45.4" y="420.6" font-size="8" fill="#131722" text-anchor="middle">Jul</text>
<text x="151.0" y="420.6" font-size="8" fill="#131722" text-anchor="middle" font-weight="bold">2022</text>
<text x="256.6" y="420.6" font-size="8" fill="#131722" text-anchor="middle">Jul</text>
<text x="362.2" y="420.6" font-size="8" fill="#131722" text-anchor="middle" font-weight="bold">2023</text>
<text x="467.8" y="420.6" font-size="8" fill="#131722" text-anchor="middle">Jul</text>
<text x="573.4" y="420.6" font-size="8" fill="#131722" text-anchor="middle" font-weight="bold">2024</text>
<text x="679.0" y="420.6" font-size="8" fill="#131722" text-anchor="middle">Jul</text>
<text x="788.6" y="420.6" font-size="8" fill="#131722" text-anchor="middle" font-weight="bold">2025</text>
<text x="894.2" y="420.6" font-size="8" fill="#131722" text-anchor="middle">Jul</text>
<line x1="974.5" y1="19" x2="974.5" y2="428" stroke="#86888f" stroke-width="1"/>
<line x1="7" y1="408.2" x2="1017" y2="408.2" stroke="#86888f" stroke-width="1"/>
<line x1="7" y1="364.5" x2="1017" y2="364.5" stroke="#e0e3eb" stroke-width="1"/>
<g fill="#131722" transform="translate(0,0.5)"><path d="M7 436.6h6.2v2.1h-2v5.3h-2.4v-5.3h-1.8z"/><circle cx="15" cy="437.8" r="1.2"/><path d="M17.2 436.6h3.2l-3 7.4h-3z"/></g>
<text x="23.5" y="444" font-size="8.9" fill="#131722">TradingView</text>
</svg>
</body></html>
